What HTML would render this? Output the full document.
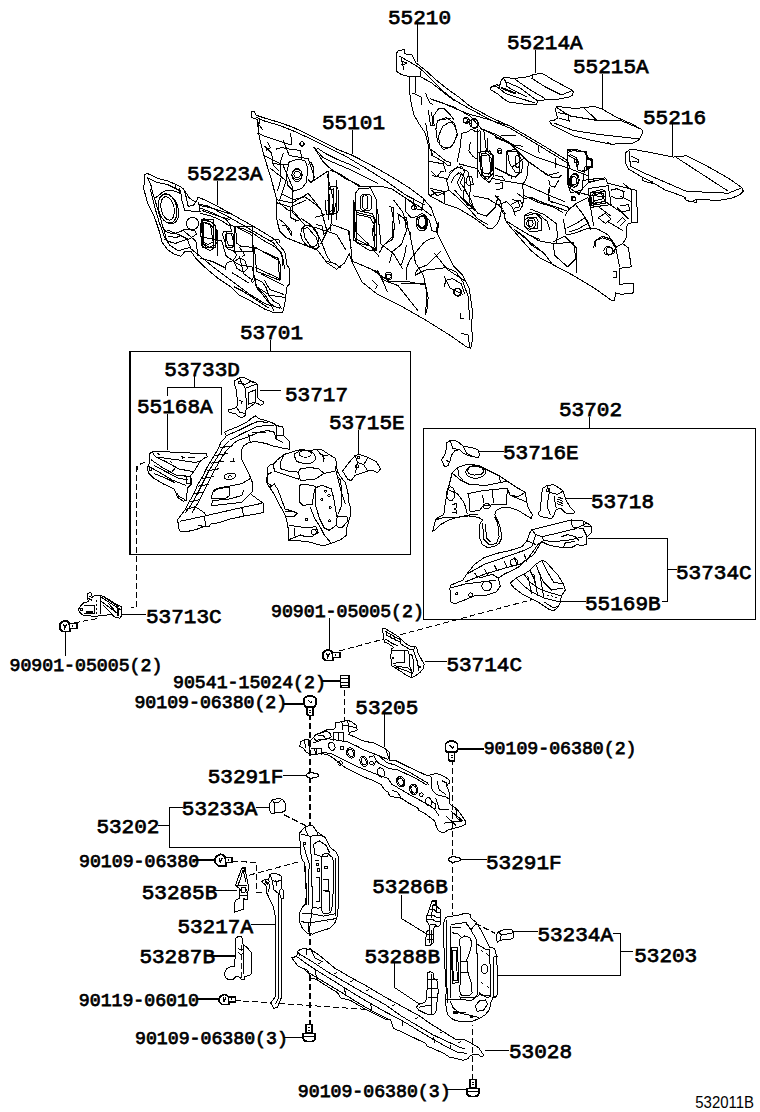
<!DOCTYPE html>
<html><head><meta charset="utf-8"><style>
html,body{margin:0;padding:0;background:#fff;overflow:hidden;width:760px;height:1112px;}
svg{display:block;}
</style></head><body>
<svg width="760" height="1112" viewBox="0 0 760 1112" shape-rendering="crispEdges">
<rect width="760" height="1112" fill="#fff"/>
<path d="M417.5,24.0 L417.5,62.0" fill="none" stroke="#000" stroke-width="1.0"/>
<path d="M535.5,49.7 L535.5,73.0" fill="none" stroke="#000" stroke-width="1.0"/>
<path d="M602.6,74.0 L602.6,109.0" fill="none" stroke="#000" stroke-width="1.0"/>
<path d="M672.6,124.0 L672.6,157.0" fill="none" stroke="#000" stroke-width="1.0"/>
<path d="M352.9,130.0 L352.9,154.0" fill="none" stroke="#000" stroke-width="1.0"/>
<path d="M217.6,181.0 L217.6,205.0" fill="none" stroke="#000" stroke-width="1.0"/>
<path d="M270.5,340.0 L270.5,351.0" fill="none" stroke="#000" stroke-width="1.0"/>
<path d="M130.0,351.5 L410.5,351.5" fill="none" stroke="#000" stroke-width="1"/>
<path d="M130.0,351.0 L130.0,555.0" fill="none" stroke="#000" stroke-width="2"/>
<path d="M410.5,351.0 L410.5,555.0" fill="none" stroke="#000" stroke-width="1"/>
<path d="M129.0,554.5 L411.0,554.5" fill="none" stroke="#000" stroke-width="1"/>
<path d="M194.2,376.0 L194.2,387.4" fill="none" stroke="#000" stroke-width="1.0"/>
<path d="M167.4,414.0 L167.4,450.0" fill="none" stroke="#000" stroke-width="1.0"/>
<path d="M167.4,387.4 L167.4,396.0" fill="none" stroke="#000" stroke-width="1.0"/>
<path d="M167.4,387.4 L221.3,387.4" fill="none" stroke="#000" stroke-width="1.0"/>
<path d="M221.3,387.4 L221.3,435.0" fill="none" stroke="#000" stroke-width="1.0"/>
<path d="M259.5,390.4 L281.0,390.4" fill="none" stroke="#000" stroke-width="1.0"/>
<path d="M358.3,430.0 L358.3,455.0" fill="none" stroke="#000" stroke-width="1.0"/>
<path d="M589.7,417.0 L589.7,428.4" fill="none" stroke="#000" stroke-width="1.0"/>
<path d="M423.0,428.5 L756.0,428.5" fill="none" stroke="#000" stroke-width="1"/>
<path d="M423.5,428.0 L423.5,620.0" fill="none" stroke="#000" stroke-width="1"/>
<path d="M755.5,428.0 L755.5,620.0" fill="none" stroke="#000" stroke-width="1"/>
<path d="M423.0,619.5 L756.0,619.5" fill="none" stroke="#000" stroke-width="1"/>
<path d="M479.0,451.8 L503.7,451.8" fill="none" stroke="#000" stroke-width="1.0"/>
<path d="M565.0,498.7 L591.6,498.7" fill="none" stroke="#000" stroke-width="1.0"/>
<path d="M588.0,538.2 L667.1,538.2 L667.1,601.3 L662.0,601.3" fill="none" stroke="#000" stroke-width="1.0"/>
<path d="M667.1,569.0 L677.0,569.0" fill="none" stroke="#000" stroke-width="1.0"/>
<path d="M560.0,601.3 L586.0,601.3" fill="none" stroke="#000" stroke-width="1.0"/>
<path d="M136.8,466.0 L136.8,607.5 L131.0,607.5" fill="none" stroke="#000" stroke-width="1.0" stroke-dasharray="6,3"/>
<path d="M121.6,614.2 L145.8,614.2" fill="none" stroke="#000" stroke-width="1.0"/>
<path d="M65.5,632.0 L65.5,656.0" fill="none" stroke="#000" stroke-width="1.0"/>
<path d="M73.7,623.0 L100.5,618.0" fill="none" stroke="#000" stroke-width="1.0" stroke-dasharray="6,3"/>
<path d="M329.0,618.0 L329.0,650.5" fill="none" stroke="#000" stroke-width="1.0"/>
<path d="M339.0,651.0 L540.0,597.5" fill="none" stroke="#000" stroke-width="1.0" stroke-dasharray="6,3"/>
<path d="M424.5,661.0 L447.0,661.0" fill="none" stroke="#000" stroke-width="1.0"/>
<path d="M322.0,681.0 L340.4,681.0" fill="none" stroke="#000" stroke-width="2"/>
<path d="M284.3,703.5 L304.5,703.5" fill="none" stroke="#000" stroke-width="2"/>
<path d="M344.2,690.0 L344.2,725.0" fill="none" stroke="#000" stroke-width="1.0" stroke-dasharray="6,3"/>
<path d="M310.0,714.0 L310.0,1025.0" fill="none" stroke="#000" stroke-width="2" stroke-dasharray="6,3"/>
<path d="M384.2,714.0 L384.2,747.0" fill="none" stroke="#000" stroke-width="1.0"/>
<path d="M283.0,775.5 L306.0,775.5" fill="none" stroke="#000" stroke-width="1.0"/>
<path d="M457.0,749.0 L484.0,749.0" fill="none" stroke="#000" stroke-width="2"/>
<path d="M452.4,759.0 L452.4,915.0" fill="none" stroke="#000" stroke-width="1.0" stroke-dasharray="6,3"/>
<path d="M256.0,807.5 L271.0,807.5" fill="none" stroke="#000" stroke-width="1.0"/>
<path d="M158.0,825.4 L169.7,825.4" fill="none" stroke="#000" stroke-width="1.0"/>
<path d="M183.0,807.5 L169.7,807.5 L169.7,847.5 L300.0,847.5" fill="none" stroke="#000" stroke-width="1.0"/>
<path d="M193.0,860.0 L215.5,860.0" fill="none" stroke="#000" stroke-width="2"/>
<path d="M232.0,861.0 L256.6,862.7 L256.6,892.8 L262.0,892.8" fill="none" stroke="#000" stroke-width="1.0" stroke-dasharray="6,3"/>
<path d="M249.0,875.2 L300.0,861.5" fill="none" stroke="#000" stroke-width="1.0" stroke-dasharray="6,3"/>
<path d="M461.3,859.7 L487.0,859.7" fill="none" stroke="#000" stroke-width="1.0"/>
<path d="M215.4,890.5 L236.8,890.5" fill="none" stroke="#000" stroke-width="1.0"/>
<path d="M401.3,895.0 L401.3,918.4 L425.8,933.4" fill="none" stroke="#000" stroke-width="1.0"/>
<path d="M251.0,924.6 L274.7,924.6" fill="none" stroke="#000" stroke-width="1.0"/>
<path d="M512.8,931.6 L537.6,931.6" fill="none" stroke="#000" stroke-width="1.0"/>
<path d="M613.4,933.6 L620.5,933.6 L620.5,975.8 L497.0,975.8" fill="none" stroke="#000" stroke-width="1.0"/>
<path d="M620.5,951.3 L633.0,951.3" fill="none" stroke="#000" stroke-width="1.0"/>
<path d="M212.2,956.0 L236.2,956.0" fill="none" stroke="#000" stroke-width="2"/>
<path d="M394.3,963.3 L394.3,987.3 L419.0,1003.8" fill="none" stroke="#000" stroke-width="1.0"/>
<path d="M197.0,999.0 L219.5,999.0" fill="none" stroke="#000" stroke-width="2"/>
<path d="M234.5,1000.4 L272.0,1003.0 L370.0,1009.6" fill="none" stroke="#000" stroke-width="1.0" stroke-dasharray="6,3"/>
<path d="M284.0,1037.5 L303.6,1037.5" fill="none" stroke="#000" stroke-width="1.0"/>
<path d="M485.0,1050.8 L508.8,1050.8" fill="none" stroke="#000" stroke-width="1.0"/>
<path d="M447.3,1089.2 L466.0,1089.2" fill="none" stroke="#000" stroke-width="1.0"/>
<path d="M472.5,1080.0 L472.5,1025.0" fill="none" stroke="#000" stroke-width="1.0" stroke-dasharray="6,3"/>
<path d="M144.8,174.1 L148.0,173.7 L156.7,178.0 L168.7,181.3 L178.4,185.6 L183.8,188.9 L186.0,196.5 L188.2,206.3 L193.6,205.2 L196.9,200.8 L198.0,197.1 L206.6,200.8 L217.5,206.3 L237.0,217.1 L254.4,226.9 L273.9,238.8 L284.8,251.8 L287.0,264.9 L289.6,269.2 L289.1,284.4 L287.0,286.6 L284.8,303.9 L282.6,312.6 L273.9,312.6 L265.3,309.4 L252.2,301.8 L239.2,295.3 L230.5,286.6 L217.5,277.9 L204.5,267.0 L195.8,258.4 L191.4,251.8 L184.9,251.8 L180.6,256.2 L174.1,254.0 L167.6,249.7 L162.1,242.1 L158.9,230.1 L154.5,217.1 L148.0,204.1 L143.7,188.9 Z" fill="#fff" stroke="#000" stroke-width="1.0" stroke-linejoin="round"/>
<ellipse transform="translate(167.6,208.4) rotate(-12)" rx="9.1" ry="14.8" fill="none" stroke="#000" stroke-width="1.0"/>
<ellipse transform="translate(167.6,208.4) rotate(-12)" rx="6.5" ry="11.9" fill="none" stroke="#000" stroke-width="1.0"/>
<circle cx="192.5" cy="223.6" r="6.1" fill="none" stroke="#000" stroke-width="1.0"/>
<path d="M148.0,178.0 L156.7,182.4 L167.6,184.5 L180.6,191.1 L181.7,199.7 L184.9,210.6 L200.1,211.7 L199.0,204.1 L208.8,206.3 L234.9,220.4 L273.9,243.2 L282.6,256.2 L284.8,269.2" fill="none" stroke="#000" stroke-width="1.0"/>
<path d="M150.2,188.9 L154.5,206.3 L158.9,221.4 L164.3,236.6 L169.7,245.3 L178.4,250.8 L189.3,247.5 L200.1,256.2 L213.2,267.0 L230.5,280.1 L247.9,293.1 L265.3,303.9 L280.5,308.3" fill="none" stroke="#000" stroke-width="1.0"/>
<rect x="202.3" y="219.3" width="10.9" height="28.2" rx="0" fill="none" stroke="#000" stroke-width="1.0"/>
<rect x="225.1" y="233.4" width="8.7" height="14.1" rx="3" fill="none" stroke="#000" stroke-width="1.0"/>
<rect x="234.9" y="226.9" width="17.4" height="25.0" rx="0" fill="none" stroke="#000" stroke-width="1.0"/>
<path d="M254.4,247.5 L278.3,258.4 L279.4,280.1 L256.6,271.4 L254.4,247.5" fill="none" stroke="#000" stroke-width="1.0"/>
<path d="M200.1,236.6 L221.8,241.0 L226.2,256.2 L239.2,264.9 L252.2,267.0 L256.6,286.6 L269.6,295.3 L284.8,297.4" fill="none" stroke="#000" stroke-width="1.0"/>
<path d="M217.5,230.1 L217.5,256.2" fill="none" stroke="#000" stroke-width="1.0"/>
<path d="M239.2,256.2 L243.6,273.6 L252.2,280.1" fill="none" stroke="#000" stroke-width="1.0"/>
<path d="M182.8,230.1 L195.8,241.0 L198.0,256.2" fill="none" stroke="#000" stroke-width="1.0"/>
<path d="M256.6,286.6 L265.3,295.3 L273.9,310.5" fill="none" stroke="#000" stroke-width="1.0"/>
<path d="M167.6,230.1 L178.4,234.5 L187.1,238.8 L191.4,249.7" fill="none" stroke="#000" stroke-width="1.0"/>
<path d="M251.3,112.0 L254.5,111.3 L255.8,115.1 L264.5,118.0 L278.9,122.3 L293.4,127.4 L307.9,134.6 L322.4,141.8 L336.8,149.1 L351.3,154.9 L358.9,158.7 L377.8,168.8 L395.1,178.9 L411.1,189.1 L422.6,197.8 L431.3,207.9 L434.2,216.6 L434.5,217.1 L437.6,225.0 L436.1,231.3 L440.8,240.8 L447.1,253.4 L453.4,266.1 L462.9,275.5 L469.2,288.2 L472.4,310.3 L471.7,326.1 L472.4,340.3 L470.8,348.2 L466.1,346.6 L450.3,335.5 L425.0,319.7 L402.9,307.1 L390.3,300.8 L377.6,294.5 L361.8,281.8 L352.4,262.9 L349.2,253.4 L344.5,262.9 L336.6,269.2 L327.1,262.9 L317.6,250.3 L301.8,243.9 L286.1,237.6 L279.7,231.3 L276.6,218.7 L276.6,199.7 L271.8,180.8 L263.9,155.5 L259.2,136.6 L257.0,119.2 L251.3,117.6 Z" fill="#fff" stroke="#000" stroke-width="1.0" stroke-linejoin="round"/>
<path d="M255.8,117.0 L264.5,121.0 L278.9,125.2 L293.4,131.0 L307.9,137.5 L322.4,144.7 L336.8,152.0 L344.5,155.5 L366.2,168.5 L385.0,180.3 L405.3,194.8 L425.0,205.0" fill="none" stroke="#000" stroke-width="1.0"/>
<path d="M313.7,146.9 L322.4,157.0 L330.0,161.0 L351.7,170.3 L366.2,177.5 L377.8,183.3" fill="none" stroke="#000" stroke-width="1.0"/>
<path d="M316.6,147.6 L325.3,153.4 L336.8,159.2 L351.3,165.0 L359.9,169.3" fill="none" stroke="#000" stroke-width="1.0"/>
<path d="M330.0,170.3 L338.7,173.2 L358.9,186.2 L380.7,186.2 L392.2,189.1 L405.3,197.8 L420.0,207.0 L432.0,216.0" fill="none" stroke="#000" stroke-width="1.0"/>
<path d="M259.2,117.6 L259.0,125.0 L263.0,130.0" fill="none" stroke="#000" stroke-width="1.0"/>
<circle cx="297.1" cy="174.5" r="5.1" fill="none" stroke="#000" stroke-width="1.0"/>
<circle cx="297.1" cy="174.5" r="3.2" fill="none" stroke="#000" stroke-width="1.0"/>
<circle cx="301.8" cy="143.5" r="1.9" fill="none" stroke="#000" stroke-width="1.0"/>
<circle cx="388.7" cy="277.1" r="2.8" fill="none" stroke="#000" stroke-width="1.0"/>
<circle cx="457.2" cy="291.9" r="3.5" fill="none" stroke="#000" stroke-width="1.0"/>
<circle cx="421.8" cy="221.8" r="5.4" fill="none" stroke="#000" stroke-width="1.0"/>
<circle cx="413.9" cy="207.6" r="2.2" fill="none" stroke="#000" stroke-width="1.0"/>
<rect x="328.7" y="186.5" width="9.5" height="27.5" rx="4" fill="none" stroke="#000" stroke-width="1.0"/>
<rect x="360.3" y="194.1" width="11.1" height="16.7" rx="4" fill="none" stroke="#000" stroke-width="1.0"/>
<ellipse transform="translate(309.7,236.1) rotate(-25)" rx="8.2" ry="11.4" fill="none" stroke="#000" stroke-width="1.0"/>
<path d="M349.2,231.3 L352.4,262.9" fill="none" stroke="#000" stroke-width="1.0"/>
<path d="M353.9,199.7 L355.5,231.3 L368.2,243.9 L379.2,256.6" fill="none" stroke="#000" stroke-width="1.0"/>
<path d="M393.4,199.7 L402.9,212.4 L409.2,231.3 L415.5,262.9 L423.4,275.5 L428.2,297.6 L426.6,313.4" fill="none" stroke="#000" stroke-width="1.0"/>
<path d="M276.6,199.7 L292.4,202.9 L308.2,193.4 L320.8,209.2 L327.1,231.3 L320.8,243.9" fill="none" stroke="#000" stroke-width="1.0"/>
<path d="M263.9,155.5 L282.9,165.0 L292.4,187.1 L292.4,212.4 L305.0,225.0 L317.6,228.2 L336.6,234.5 L346.1,250.3" fill="none" stroke="#000" stroke-width="1.0"/>
<path d="M327.1,174.5 L333.4,199.7 L330.3,231.3" fill="none" stroke="#000" stroke-width="1.0"/>
<path d="M377.6,209.2 L380.8,243.9 L393.4,253.4 L402.9,269.2" fill="none" stroke="#000" stroke-width="1.0"/>
<path d="M434.5,253.4 L447.1,269.2 L466.1,281.8" fill="none" stroke="#000" stroke-width="1.0"/>
<path d="M371.3,269.2 L390.3,281.8 L409.2,281.8 L425.0,285.0" fill="none" stroke="#000" stroke-width="1.0"/>
<path d="M443.9,275.5 L450.3,288.2 L462.9,294.5" fill="none" stroke="#000" stroke-width="1.0"/>
<path d="M282.9,139.7 L289.2,155.5 L308.2,158.7 L314.5,177.6" fill="none" stroke="#000" stroke-width="1.0"/>
<path d="M270.3,168.2 L286.1,180.8 L279.7,199.7" fill="none" stroke="#000" stroke-width="1.0"/>
<path d="M396.6,52.9 L398.2,50.8 L404.5,49.4 L405.0,53.9 L411.8,54.5 L416.1,62.9 L426.6,71.3 L437.1,80.8 L447.6,89.2 L458.2,96.6 L470.0,106.2 L483.2,113.4 L496.3,120.0 L509.5,125.9 L513.4,127.9 L535.8,141.1 L549.0,149.0 L567.4,160.5 L567.9,149.3 L572.9,149.3 L578.7,151.5 L585.9,151.5 L586.6,158.7 L591.6,159.4 L592.3,167.3 L588.0,168.8 L588.0,175.9 L588.8,181.7 L606.0,178.8 L607.4,183.1 L636.2,190.3 L637.8,222.0 L628.4,223.4 L627.0,226.3 L626.3,237.9 L622.6,243.7 L628.4,248.0 L631.3,266.8 L619.7,268.3 L619.7,284.2 L633.5,283.5 L633.5,292.9 L621.2,294.3 L615.4,292.9 L614.7,300.0 L611.0,300.0 L595.1,288.6 L573.4,275.5 L548.8,262.5 L540.0,258.0 L531.3,250.8 L519.7,237.8 L511.0,227.6 L505.3,220.4 L503.8,210.3 L501.0,211.7 L499.5,219.0 L496.6,224.7 L492.0,229.0 L488.0,228.4 L473.4,217.5 L459.0,208.8 L444.5,203.7 L430.0,195.8 L428.6,194.2 L428.6,155.1 L428.3,145.0 L425.4,133.4 L419.6,124.7 L413.8,114.6 L410.9,101.6 L409.7,92.4 L409.7,76.6 L401.3,74.5 L396.6,71.3 Z" fill="#fff" stroke="#000" stroke-width="1.0" stroke-linejoin="round"/>
<path d="M399.7,56.1 L419.2,67.6 L431.8,79.7 L443.4,91.3 L453.9,99.7 L470.0,109.0 L483.2,116.0 L496.3,122.5 L510.8,128.5 L535.8,143.5 L567.4,163.0" fill="none" stroke="#000" stroke-width="1.0"/>
<path d="M420.3,71.3 L420.3,76.6 L409.7,76.6" fill="none" stroke="#000" stroke-width="1.0"/>
<path d="M415.0,76.6 L415.0,93.4" fill="none" stroke="#000" stroke-width="1.0"/>
<path d="M420.3,76.6 L431.8,83.0 L453.9,100.5" fill="none" stroke="#000" stroke-width="1.0"/>
<path d="M431.8,99.7 L453.9,107.1 L470.0,116.0 L481.8,129.2 L496.3,134.5 L513.4,145.0 L522.6,146.3" fill="none" stroke="#000" stroke-width="1.0"/>
<path d="M483.2,129.2 L509.5,143.7 L535.8,156.8 L570.0,168.7 L588.0,175.9" fill="none" stroke="#000" stroke-width="1.0"/>
<path d="M567.4,160.5 L570.0,168.7" fill="none" stroke="#000" stroke-width="1.0"/>
<path d="M401.0,58.0 L404.0,70.0" fill="none" stroke="#000" stroke-width="1.0"/>
<path d="M401.5,61.0 L406.5,63.0 L404.0,65.0 L401.5,64.0" fill="none" stroke="#000" stroke-width="1.0"/>
<path d="M588.0,168.8 L584.0,172.0 L578.0,170.0 L576.0,160.0 L567.9,155.0" fill="none" stroke="#000" stroke-width="1.0"/>
<path d="M591.6,159.4 L586.6,160.0 L586.6,168.8" fill="none" stroke="#000" stroke-width="1.0"/>
<path d="M490.4,87.2 L496.3,84.8 L499.8,85.4 L501.0,80.7 L503.4,77.7 L516.4,78.3 L529.4,76.5 L533.0,74.7 L538.9,73.6 L543.7,74.1 L554.3,80.7 L570.9,89.5 L573.3,91.9 L572.7,94.9 L568.5,97.2 L559.1,99.0 L547.2,99.6 L537.7,100.8 L536.6,104.3 L529.4,104.9 L517.6,103.2 L509.3,102.0 L504.6,99.6 L501.0,96.6 L497.5,93.7 L490.4,89.5 Z" fill="#fff" stroke="#000" stroke-width="1.0" stroke-linejoin="round"/>
<path d="M503.4,77.7 L505.8,81.8 L520.0,87.8 L534.2,98.4 L537.7,100.8" fill="none" stroke="#000" stroke-width="1.0"/>
<path d="M515.2,79.5 L530.6,90.1 L544.8,98.4" fill="none" stroke="#000" stroke-width="1.0"/>
<path d="M533.0,74.7 L531.8,78.3 L544.8,86.6 L561.4,94.9 L570.9,91.3" fill="none" stroke="#000" stroke-width="1.0"/>
<path d="M505.8,81.8 L506.9,86.6 L517.6,92.5 L527.1,97.2" fill="none" stroke="#000" stroke-width="1.0"/>
<path d="M501.0,87.8 L516.4,93.7" fill="none" stroke="#000" stroke-width="2"/>
<path d="M499.8,85.4 L499.8,88.9 L505.8,93.7 L535.4,103.2" fill="none" stroke="#000" stroke-width="1.0"/>
<path d="M490.4,87.2 L496.3,86.6 L499.8,88.9" fill="none" stroke="#000" stroke-width="1.0"/>
<path d="M549.2,121.1 L554.5,120.0 L557.6,117.9 L555.5,109.5 L556.6,106.3 L565.0,107.4 L575.5,108.4 L586.1,107.4 L594.5,106.3 L602.9,109.5 L615.5,116.8 L632.4,124.2 L641.8,129.5 L642.9,132.6 L638.7,140.0 L632.4,143.2 L611.3,144.2 L590.3,140.0 L573.4,135.8 L560.8,129.5 L552.4,125.3 Z" fill="#fff" stroke="#000" stroke-width="1.0" stroke-linejoin="round"/>
<path d="M556.6,107.4 L569.2,115.8 L594.5,120.0 L619.7,120.0 L641.8,129.5" fill="none" stroke="#000" stroke-width="1.0"/>
<path d="M583.9,108.0 L596.6,120.0" fill="none" stroke="#000" stroke-width="1.0"/>
<path d="M554.5,123.2 L573.4,130.5 L600.8,134.7 L638.7,138.9" fill="none" stroke="#000" stroke-width="1.0"/>
<path d="M557.6,112.6 L569.2,114.7" fill="none" stroke="#000" stroke-width="1.0"/>
<path d="M558.7,117.9 L569.2,121.1 L568.2,115.8" fill="none" stroke="#000" stroke-width="1.0"/>
<path d="M607.1,142.1 L611.3,143.8" fill="none" stroke="#000" stroke-width="1.0"/>
<path d="M625.3,153.2 L628.9,150.0 L632.4,149.2 L646.8,151.8 L660.0,154.5 L673.2,157.1 L686.3,155.8 L707.4,166.3 L728.4,178.2 L741.6,187.4 L743.4,191.3 L738.9,195.3 L731.1,198.4 L717.9,200.5 L696.8,199.2 L691.6,201.8 L686.3,200.5 L683.7,196.6 L665.3,190.0 L649.5,180.8 L641.6,176.8 L628.4,168.9 L625.8,163.7 Z" fill="#fff" stroke="#000" stroke-width="1.0" stroke-linejoin="round"/>
<path d="M628.9,150.0 L630.5,166.3 L646.8,174.2 L686.3,191.3 L728.4,193.2 L741.6,187.9" fill="none" stroke="#000" stroke-width="1.0"/>
<path d="M675.8,157.1 L728.4,191.3" fill="none" stroke="#000" stroke-width="1.0"/>
<path d="M630.5,155.8 L638.9,159.7 L638.9,162.4 L632.4,161.1" fill="none" stroke="#000" stroke-width="1.0"/>
<path d="M641.6,175.5 L642.9,180.8 L652.1,183.4 L652.6,180.8" fill="none" stroke="#000" stroke-width="1.0"/>
<path d="M685.0,196.6 L686.3,200.5 L696.8,202.6 L696.8,199.2" fill="none" stroke="#000" stroke-width="1.0"/>
<path d="M429.7,98.7 L442.8,103.0 L455.8,108.8 L470.3,114.6 L481.8,117.5 L505.0,124.7" fill="none" stroke="#000" stroke-width="1.0"/>
<path d="M428.3,110.3 L430.5,125.5 L434.1,125.5 L433.4,116.1 L438.4,108.8 L444.2,108.8 L450.0,114.6 L454.3,120.4" fill="none" stroke="#000" stroke-width="1.0"/>
<path d="M438.4,136.3 L442.8,126.2 L450.0,121.8 L454.3,124.7 L457.2,133.4 L454.3,142.1 L450.0,147.9 L444.2,147.9 L439.9,145.0 L438.4,136.3" fill="none" stroke="#000" stroke-width="1.0"/>
<path d="M437.0,120.4 L451.4,118.2" fill="none" stroke="#000" stroke-width="1.0"/>
<circle cx="465.2" cy="120.4" r="2.2" fill="none" stroke="#000" stroke-width="1.0"/>
<ellipse transform="translate(474.6,123.6) rotate(0)" rx="3.6" ry="5.1" fill="none" stroke="#000" stroke-width="1.0"/>
<path d="M461.6,133.4 L467.4,132.0 L471.7,129.1 L476.1,132.0 L480.4,130.5" fill="none" stroke="#000" stroke-width="1.0"/>
<path d="M461.6,133.4 L460.1,147.9 L457.2,162.4" fill="none" stroke="#000" stroke-width="1.0"/>
<path d="M431.2,149.3 L438.4,155.1 L445.7,160.9 L450.0,162.4 L450.0,165.3 L447.1,165.3 L444.2,162.4 L437.0,158.0 L431.2,155.1 L431.2,149.3" fill="none" stroke="#000" stroke-width="1.0"/>
<path d="M478.9,152.2 L486.2,150.8 L492.0,155.1 L493.4,176.8 L489.1,182.6 L481.8,176.8 L478.9,152.2" fill="none" stroke="#000" stroke-width="1.0"/>
<path d="M481.1,153.7 L485.5,153.0 L489.8,156.6 L490.5,175.4 L487.6,179.7 L482.6,175.4 L481.1,153.7" fill="none" stroke="#000" stroke-width="1.0"/>
<path d="M480.4,130.5 L480.4,152.2" fill="none" stroke="#000" stroke-width="1.0"/>
<path d="M487.6,137.8 L487.6,150.8" fill="none" stroke="#000" stroke-width="1.0"/>
<path d="M447.1,179.7 L450.0,173.9 L455.8,168.2 L461.6,166.7 L464.5,171.1 L463.0,176.8 L460.1,182.6 L464.5,188.4 L467.4,194.2" fill="none" stroke="#000" stroke-width="1.0"/>
<path d="M451.4,182.6 L454.3,176.8 L458.7,172.5 L460.9,175.4 L457.2,182.6 L461.6,191.3" fill="none" stroke="#000" stroke-width="1.0"/>
<path d="M467.4,176.8 L471.7,176.8 L473.2,184.1 L468.8,185.5 L465.9,182.6 L467.4,176.8" fill="none" stroke="#000" stroke-width="1.0"/>
<path d="M470.3,142.1 L468.8,150.8 L473.2,156.6 L477.5,159.5" fill="none" stroke="#000" stroke-width="1.0"/>
<path d="M458.7,163.8 L476.1,168.2 L478.9,171.1" fill="none" stroke="#000" stroke-width="1.0"/>
<path d="M431.2,171.1 L437.0,176.8 L441.3,171.1 L444.2,171.1" fill="none" stroke="#000" stroke-width="1.0"/>
<path d="M429.7,188.4 L437.0,189.9 L442.8,191.3 L444.2,195.7" fill="none" stroke="#000" stroke-width="1.0"/>
<path d="M412.4,92.9 L421.1,97.2 L421.1,104.5" fill="none" stroke="#000" stroke-width="1.0"/>
<path d="M425.4,92.9 L429.7,103.0 L432.6,104.5" fill="none" stroke="#000" stroke-width="1.0"/>
<circle cx="499.9" cy="152.2" r="1.7" fill="none" stroke="#000" stroke-width="1.0"/>
<path d="M494.9,175.4 L502.1,176.8 L505.0,179.7" fill="none" stroke="#000" stroke-width="1.0"/>
<path d="M494.9,184.1 L502.1,182.6 L502.8,188.4 L496.3,189.9" fill="none" stroke="#000" stroke-width="1.0"/>
<path d="M495.0,137.4 L509.5,143.2 L528.3,162.0 L541.3,170.7 L552.9,177.9 L558.7,177.9 L561.6,175.0" fill="none" stroke="#000" stroke-width="1.0"/>
<path d="M507.3,151.1 L516.7,151.1 L522.5,162.0 L521.8,172.1 L515.3,172.1 L509.5,163.4 L507.3,151.1" fill="none" stroke="#000" stroke-width="1.0"/>
<ellipse transform="translate(517.4,161.3) rotate(0)" rx="2.3" ry="6.1" fill="none" stroke="#000" stroke-width="1.0"/>
<path d="M528.3,163.4 L526.8,177.9 L522.5,185.1 L523.9,195.3 L522.5,206.8" fill="none" stroke="#000" stroke-width="1.0"/>
<path d="M550.0,186.6 L548.6,195.3 L550.0,201.1 L567.4,206.8 L570.3,209.7" fill="none" stroke="#000" stroke-width="1.0"/>
<path d="M523.9,195.3 L529.7,198.2 L538.4,202.5 L552.9,206.8 L563.0,212.6" fill="none" stroke="#000" stroke-width="1.0"/>
<path d="M568.1,150.4 L573.2,149.7 L576.1,151.1 L581.8,151.1 L586.2,151.8 L587.6,157.6 L592.0,159.1 L592.0,166.3 L587.6,167.8 L586.2,170.7 L581.8,170.7" fill="none" stroke="#000" stroke-width="1.0"/>
<path d="M570.3,154.7 L576.1,157.6 L578.9,163.4 L576.1,166.3" fill="none" stroke="#000" stroke-width="1.0"/>
<circle cx="576.1" cy="161.3" r="1.7" fill="none" stroke="#000" stroke-width="1.0"/>
<ellipse transform="translate(573.9,180.8) rotate(0)" rx="4.3" ry="6.5" fill="none" stroke="#000" stroke-width="1.0"/>
<ellipse transform="translate(573.9,180.8) rotate(0)" rx="2.6" ry="4.3" fill="none" stroke="#000" stroke-width="1.0"/>
<path d="M568.8,169.2 L568.1,186.6 L573.2,190.9 L578.9,192.4" fill="none" stroke="#000" stroke-width="1.0"/>
<circle cx="573.9" cy="198.9" r="1.7" fill="none" stroke="#000" stroke-width="1.0"/>
<path d="M590.5,192.4 L602.1,189.5 L605.0,190.9 L605.0,201.1 L593.4,203.9 L590.5,201.1 L590.5,192.4" fill="none" stroke="#000" stroke-width="1.0"/>
<path d="M592.7,193.8 L601.4,191.6 L602.8,198.9 L594.1,201.1 L592.7,193.8" fill="none" stroke="#000" stroke-width="1.0"/>
<path d="M581.8,180.8 L590.5,179.3 L605.0,177.9" fill="none" stroke="#000" stroke-width="1.0"/>
<path d="M578.9,192.4 L589.1,195.3 L605.0,196.7" fill="none" stroke="#000" stroke-width="1.0"/>
<path d="M576.1,205.4 L581.8,212.6 L587.6,221.3 L590.5,230.0" fill="none" stroke="#000" stroke-width="1.0"/>
<path d="M495.0,195.3 L500.8,201.1 L502.2,212.6 L506.6,214.1" fill="none" stroke="#000" stroke-width="1.0"/>
<path d="M523.9,215.5 L529.7,212.6 L538.4,214.1 L547.1,221.3 L550.0,230.0" fill="none" stroke="#000" stroke-width="1.0"/>
<path d="M512.4,199.6 L518.2,201.1 L519.6,206.8 L513.8,208.3" fill="none" stroke="#000" stroke-width="1.0"/>
<path d="M495.0,167.8 L503.7,172.1 L512.4,176.4" fill="none" stroke="#000" stroke-width="1.0"/>
<path d="M538.4,146.1 L539.1,153.3" fill="none" stroke="#000" stroke-width="1.0"/>
<path d="M555.8,157.6 L555.8,167.8" fill="none" stroke="#000" stroke-width="1.0"/>
<path d="M508.0,175.0 L512.4,176.4 L510.9,179.3" fill="none" stroke="#000" stroke-width="1.0"/>
<path d="M448.8,190.0 L458.9,198.7 L469.1,208.8 L473.4,207.4 L470.5,198.7 L464.7,190.0" fill="none" stroke="#000" stroke-width="1.0"/>
<path d="M454.6,190.0 L463.3,200.1 L468.4,205.9" fill="none" stroke="#000" stroke-width="1.0"/>
<path d="M473.4,195.8 L487.9,198.7 L499.5,205.9 L502.4,208.8" fill="none" stroke="#000" stroke-width="1.0"/>
<path d="M469.1,208.8 L477.8,218.9 L487.9,224.7" fill="none" stroke="#000" stroke-width="1.0"/>
<path d="M505.3,220.4 L516.8,227.6 L531.3,236.3 L540.0,239.2" fill="none" stroke="#000" stroke-width="1.0"/>
<path d="M513.9,229.1 L524.1,236.3 L531.3,245.0 L540.0,250.8" fill="none" stroke="#000" stroke-width="1.0"/>
<circle cx="529.9" cy="223.3" r="5.8" fill="none" stroke="#000" stroke-width="1.0"/>
<circle cx="529.9" cy="223.3" r="3.2" fill="none" stroke="#000" stroke-width="1.0"/>
<path d="M511.1,204.5 L519.7,200.1 L522.6,204.5 L519.7,210.3 L513.9,211.7" fill="none" stroke="#000" stroke-width="1.0"/>
<path d="M516.8,192.9 L524.1,198.7 L531.3,197.2 L540.0,201.6" fill="none" stroke="#000" stroke-width="1.0"/>
<path d="M430.0,195.8 L435.8,192.9 L444.5,191.4 L444.5,203.8" fill="none" stroke="#000" stroke-width="1.0"/>
<path d="M530.0,197.4 L544.5,203.2 L567.6,211.1" fill="none" stroke="#000" stroke-width="1.0"/>
<path d="M530.0,208.9 L544.5,214.7 L556.1,223.4 L557.5,235.0 L556.1,243.7" fill="none" stroke="#000" stroke-width="1.0"/>
<path d="M530.0,235.0 L538.7,240.8 L554.6,243.7 L573.4,242.2 L576.3,261.1 L576.3,272.6" fill="none" stroke="#000" stroke-width="1.0"/>
<path d="M553.2,243.7 L554.6,255.3 L567.6,266.8 L576.3,258.2" fill="none" stroke="#000" stroke-width="1.0"/>
<path d="M564.7,216.2 L569.1,208.9 L573.4,206.1 L576.3,203.2 L587.9,197.4 L590.8,208.9 L593.7,226.3" fill="none" stroke="#000" stroke-width="1.0"/>
<path d="M563.3,219.1 L566.2,235.0 L573.4,233.6 L589.3,227.8 L598.0,229.2 L608.2,235.0 L615.4,246.6 L619.7,266.8" fill="none" stroke="#000" stroke-width="1.0"/>
<path d="M590.8,193.0 L605.3,191.6 L606.0,203.2 L591.5,205.3 L590.8,193.0" fill="none" stroke="#000" stroke-width="1.0"/>
<path d="M593.7,194.5 L603.8,193.3 L604.1,201.7 L593.7,203.2 L593.7,194.5" fill="none" stroke="#000" stroke-width="1.0"/>
<path d="M567.6,227.8 L576.3,223.4 L585.0,217.6 L587.9,223.4 L577.8,229.2 L569.1,232.1" fill="none" stroke="#000" stroke-width="1.0"/>
<path d="M598.0,217.6 L605.3,213.3 L611.1,219.1 L605.3,223.4 L598.0,217.6" fill="none" stroke="#000" stroke-width="1.0"/>
<circle cx="609.6" cy="250.9" r="3.6" fill="none" stroke="#000" stroke-width="1.0"/>
<path d="M595.1,246.6 L595.1,240.8 L602.4,237.9 L611.1,240.8 L615.4,248.0 L613.9,253.8" fill="none" stroke="#000" stroke-width="1.0"/>
<path d="M611.1,190.1 L616.8,188.7 L624.1,191.6 L622.6,198.8 L616.8,198.8 L611.1,195.9" fill="none" stroke="#000" stroke-width="1.0"/>
<path d="M619.7,206.1 L628.4,204.6 L629.9,210.4 L621.2,211.8" fill="none" stroke="#000" stroke-width="1.0"/>
<path d="M616.8,223.4 L622.6,217.6 L625.5,220.5 L619.7,226.3" fill="none" stroke="#000" stroke-width="1.0"/>
<path d="M569.1,180.0 L570.5,188.7 L579.2,194.5 L582.1,188.7 L587.9,182.9 L598.0,180.0" fill="none" stroke="#000" stroke-width="1.0"/>
<path d="M548.8,180.0 L550.3,185.8 L554.6,187.2 L558.9,180.0" fill="none" stroke="#000" stroke-width="1.0"/>
<path d="M548.8,188.7 L548.8,200.3 L553.2,203.2" fill="none" stroke="#000" stroke-width="1.0"/>
<path d="M622.6,243.7 L616.8,246.6 L615.4,249.5" fill="none" stroke="#000" stroke-width="1.0"/>
<path d="M612.5,271.2 L616.8,271.2 L616.8,277.0 L613.2,277.0" fill="none" stroke="#000" stroke-width="1.0"/>
<path d="M622.6,182.9 L631.3,190.1 L631.3,222.0" fill="none" stroke="#000" stroke-width="1.0"/>
<path d="M437.4,120.5 L446.1,117.6 L454.7,123.4 L457.6,135.0 L451.8,146.6 L443.2,149.5 L437.4,140.8 L435.9,129.2 L437.4,120.5" fill="none" stroke="#000" stroke-width="1.0"/>
<path d="M431.6,111.8 L433.0,126.3" fill="none" stroke="#000" stroke-width="1.0"/>
<path d="M425.8,123.4 L430.1,149.5 L433.0,155.3" fill="none" stroke="#000" stroke-width="1.0"/>
<path d="M448.9,172.6 L457.6,166.8 L467.8,171.2 L470.7,184.2 L469.2,201.6 L477.9,213.2 L486.6,216.1 L495.3,207.4 L498.2,195.8" fill="none" stroke="#000" stroke-width="1.0"/>
<path d="M454.7,175.5 L460.5,172.6 L464.9,178.4 L463.4,198.7 L475.0,210.3" fill="none" stroke="#000" stroke-width="1.0"/>
<path d="M477.9,152.4 L489.5,150.9 L493.8,156.7 L493.8,172.6 L489.5,177.0 L480.8,175.5 L477.9,169.7 L477.9,152.4" fill="none" stroke="#000" stroke-width="1.0"/>
<path d="M480.8,155.8 L488.9,154.7 L491.2,158.7 L491.2,171.2 L488.3,174.1 L481.9,172.6 L480.8,168.3 L480.8,155.8" fill="none" stroke="#000" stroke-width="1.0"/>
<path d="M506.8,150.9 L515.5,149.5 L519.9,155.3 L519.9,172.6 L515.5,177.0 L508.3,175.5 L506.8,172.6 L506.8,150.9" fill="none" stroke="#000" stroke-width="1.0"/>
<circle cx="499.6" cy="150.9" r="2.3" fill="none" stroke="#000" stroke-width="1.0"/>
<circle cx="466.3" cy="120.5" r="2.9" fill="none" stroke="#000" stroke-width="1.0"/>
<circle cx="473.6" cy="123.4" r="4.1" fill="none" stroke="#000" stroke-width="1.0"/>
<path d="M524.2,216.1 L535.8,213.2 L541.6,218.9 L541.6,230.5 L530.0,232.0 L524.2,226.2 L524.2,216.1" fill="none" stroke="#000" stroke-width="1.0"/>
<path d="M528.6,218.9 L535.8,217.2 L538.1,221.3 L537.5,228.2 L530.6,229.1 L528.6,224.7 L528.6,218.9" fill="none" stroke="#000" stroke-width="1.0"/>
<path d="M567.6,152.4 L576.3,149.5 L585.0,152.4 L587.9,158.2 L592.2,161.1 L590.8,166.8 L585.0,166.8 L583.6,175.5 L582.1,190.0 L570.5,192.9 L567.6,184.2 L567.6,152.4" fill="none" stroke="#000" stroke-width="1.0"/>
<ellipse transform="translate(574.9,179.9) rotate(0)" rx="4.3" ry="6.4" fill="none" stroke="#000" stroke-width="1.0"/>
<circle cx="573.4" cy="198.7" r="2.3" fill="none" stroke="#000" stroke-width="1.0"/>
<path d="M587.9,188.6 L608.2,185.7 L611.1,204.5 L590.8,207.4 L587.9,188.6" fill="none" stroke="#000" stroke-width="1.0"/>
<path d="M599.5,207.4 L611.1,216.1" fill="none" stroke="#000" stroke-width="1.0"/>
<path d="M605.3,201.6 L622.6,213.2" fill="none" stroke="#000" stroke-width="1.0"/>
<path d="M616.8,207.4 L628.4,218.9" fill="none" stroke="#000" stroke-width="1.0"/>
<path d="M608.2,221.8 L622.6,230.5" fill="none" stroke="#000" stroke-width="1.0"/>
<path d="M619.7,195.8 L631.3,201.6" fill="none" stroke="#000" stroke-width="1.0"/>
<path d="M477.9,129.2 L477.9,178.4" fill="none" stroke="#000" stroke-width="1.0"/>
<path d="M483.7,129.2 L486.6,152.4" fill="none" stroke="#000" stroke-width="1.0"/>
<path d="M501.1,135.0 L515.5,135.0" fill="none" stroke="#000" stroke-width="1.0"/>
<path d="M492.4,178.4 L506.8,181.3 L524.2,184.2 L550.3,195.8 L564.7,201.6" fill="none" stroke="#000" stroke-width="1.0"/>
<path d="M498.2,204.5 L506.8,201.6 L512.6,207.4 L515.5,216.1" fill="none" stroke="#000" stroke-width="1.0"/>
<path d="M553.2,242.1 L564.7,236.3 L576.3,247.9 L576.3,265.3" fill="none" stroke="#000" stroke-width="1.0"/>
<path d="M515.5,230.5 L530.0,242.1 L544.5,253.7 L553.2,265.3" fill="none" stroke="#000" stroke-width="1.0"/>
<circle cx="608.2" cy="250.8" r="4.3" fill="none" stroke="#000" stroke-width="1.0"/>
<path d="M593.7,247.9 L595.1,240.7 L602.4,236.3 L611.1,239.2 L616.8,247.9" fill="none" stroke="#000" stroke-width="1.0"/>
<path d="M512.6,166.8 L524.2,158.2 L535.8,166.8 L547.4,175.5 L558.9,172.6" fill="none" stroke="#000" stroke-width="1.0"/>
<path d="M431.6,175.5 L446.1,178.4 L448.9,190.0 L437.4,195.8 L431.6,190.0" fill="none" stroke="#000" stroke-width="1.0"/>
<path d="M428.7,161.1 L443.2,163.9 L446.1,172.6" fill="none" stroke="#000" stroke-width="1.0"/>
<path d="M258.7,121.6 L258.0,133.2 L264.5,136.1 L278.9,141.1 L290.5,144.7" fill="none" stroke="#000" stroke-width="1.0"/>
<path d="M313.7,146.9 L322.4,160.7 L329.6,167.9 L344.1,178.0 L360.0,185.3" fill="none" stroke="#000" stroke-width="1.0"/>
<path d="M289.1,162.1 L297.8,159.2 L305.0,160.7 L307.9,167.9 L306.4,182.4 L302.1,188.2 L293.4,191.1 L287.6,185.3 L286.2,175.1 L289.1,162.1" fill="none" stroke="#000" stroke-width="1.0"/>
<ellipse transform="translate(297.0,175.1) rotate(0)" rx="5.1" ry="6.5" fill="none" stroke="#000" stroke-width="1.0"/>
<path d="M307.9,165.0 L310.8,162.1 L313.7,167.9 L313.7,179.5 L310.8,182.4 L307.9,179.5" fill="none" stroke="#000" stroke-width="1.0"/>
<path d="M276.1,149.1 L281.8,147.6 L289.1,149.1 L300.7,150.5 L301.4,159.2" fill="none" stroke="#000" stroke-width="1.0"/>
<path d="M267.4,141.8 L270.3,147.6 L265.9,150.5" fill="none" stroke="#000" stroke-width="1.0"/>
<path d="M264.5,146.2 L271.7,153.4 L273.2,165.0 L278.9,170.8" fill="none" stroke="#000" stroke-width="1.0"/>
<path d="M290.5,133.2 L292.0,144.7" fill="none" stroke="#000" stroke-width="1.0"/>
<circle cx="302.1" cy="144.0" r="2.2" fill="none" stroke="#000" stroke-width="1.0"/>
<path d="M328.2,170.8 L328.2,220.0" fill="none" stroke="#000" stroke-width="1.0"/>
<path d="M336.8,179.5 L336.8,220.0" fill="none" stroke="#000" stroke-width="1.0"/>
<path d="M328.9,189.6 L333.2,188.9 L333.9,214.2 L329.6,214.2 L328.9,189.6" fill="none" stroke="#000" stroke-width="1.0"/>
<path d="M281.8,193.9 L293.4,199.7 L305.0,196.8 L315.1,204.1 L322.4,211.3" fill="none" stroke="#000" stroke-width="1.0"/>
<path d="M310.8,182.4 L328.2,170.8" fill="none" stroke="#000" stroke-width="1.0"/>
<path d="M278.9,202.6 L287.6,209.9 L293.4,211.3 L300.7,220.0" fill="none" stroke="#000" stroke-width="1.0"/>
<path d="M273.2,163.6 L287.6,165.0" fill="none" stroke="#000" stroke-width="1.0"/>
<path d="M283.3,153.4 L280.4,162.1 L281.1,178.0 L277.5,191.1" fill="none" stroke="#000" stroke-width="1.0"/>
<path d="M303.3,228.9 L307.6,227.5 L316.3,237.6 L319.2,246.3 L316.3,249.2 L310.5,246.3 L304.7,237.6 L303.3,228.9" fill="none" stroke="#000" stroke-width="1.0"/>
<path d="M294.6,221.7 L301.8,218.8 L310.5,224.6 L317.8,234.7 L322.1,243.4 L326.4,255.0 L330.8,262.2" fill="none" stroke="#000" stroke-width="1.0"/>
<path d="M277.2,202.9 L290.3,207.2 L306.2,200.0" fill="none" stroke="#000" stroke-width="1.0"/>
<path d="M290.3,207.2 L290.3,217.4 L296.1,220.3" fill="none" stroke="#000" stroke-width="1.0"/>
<path d="M278.7,218.8 L284.5,223.2 L291.7,236.2" fill="none" stroke="#000" stroke-width="1.0"/>
<path d="M323.6,234.7 L332.2,224.6 L348.2,230.4 L351.1,247.8" fill="none" stroke="#000" stroke-width="1.0"/>
<path d="M316.3,224.6 L322.1,226.1 L323.6,234.7" fill="none" stroke="#000" stroke-width="1.0"/>
<path d="M325.0,200.0 L326.4,214.5 L333.7,213.0 L336.6,200.0" fill="none" stroke="#000" stroke-width="1.0"/>
<path d="M327.9,200.0 L329.3,211.6 L333.7,210.1" fill="none" stroke="#000" stroke-width="1.0"/>
<path d="M353.9,200.0 L353.9,240.5 L359.7,243.4 L371.3,246.3 L377.1,250.7" fill="none" stroke="#000" stroke-width="1.0"/>
<path d="M356.8,214.5 L369.9,217.4 L374.2,224.6 L374.2,246.3" fill="none" stroke="#000" stroke-width="1.0"/>
<path d="M314.9,217.4 L320.7,215.9 L325.0,214.5" fill="none" stroke="#000" stroke-width="1.0"/>
<path d="M325.0,260.8 L335.1,263.7 L340.9,268.0" fill="none" stroke="#000" stroke-width="1.0"/>
<path d="M281.6,226.1 L285.9,224.6 L291.7,231.8 L291.7,236.2" fill="none" stroke="#000" stroke-width="1.0"/>
<path d="M270.0,240.5 L278.7,239.1 L280.1,243.4" fill="none" stroke="#000" stroke-width="1.0"/>
<path d="M356.8,210.3 L356.8,239.3 L367.1,244.5 L377.4,249.6" fill="none" stroke="#000" stroke-width="1.0"/>
<path d="M356.8,210.3 L372.2,213.7 L375.7,220.5 L372.2,230.8 L375.7,251.3" fill="none" stroke="#000" stroke-width="1.0"/>
<path d="M379.1,253.0 L384.2,244.5 L392.8,239.3 L394.5,225.7 L391.1,206.8" fill="none" stroke="#000" stroke-width="1.0"/>
<path d="M389.3,263.3 L392.8,251.3 L401.3,244.5 L406.4,230.8 L404.7,218.8 L397.9,213.7 L399.6,223.9" fill="none" stroke="#000" stroke-width="1.0"/>
<path d="M401.3,265.0 L404.7,254.7 L406.4,244.5" fill="none" stroke="#000" stroke-width="1.0"/>
<path d="M406.4,280.4 L406.4,268.4 L409.9,259.9 L416.7,251.3 L423.6,242.8 L428.7,239.3 L435.5,237.6" fill="none" stroke="#000" stroke-width="1.0"/>
<path d="M415.0,273.6 L418.4,268.4 L427.0,265.0 L435.5,256.4 L440.7,251.3" fill="none" stroke="#000" stroke-width="1.0"/>
<path d="M415.0,275.3 L425.3,270.1 L440.7,268.4 L445.8,267.6" fill="none" stroke="#000" stroke-width="1.0"/>
<path d="M401.3,283.8 L425.3,283.8 L427.0,295.8 L425.3,314.6" fill="none" stroke="#000" stroke-width="1.0"/>
<path d="M353.4,261.6 L377.4,271.8 L384.2,280.4 L397.9,285.5 L418.4,311.2" fill="none" stroke="#000" stroke-width="1.0"/>
<path d="M377.4,270.1 L382.5,280.4 L387.6,292.4" fill="none" stroke="#000" stroke-width="1.0"/>
<circle cx="388.5" cy="275.3" r="3.1" fill="none" stroke="#000" stroke-width="1.0"/>
<circle cx="457.8" cy="292.4" r="3.8" fill="none" stroke="#000" stroke-width="1.0"/>
<path d="M444.1,287.2 L445.8,280.4 L452.6,278.7 L461.2,283.8 L464.6,294.1" fill="none" stroke="#000" stroke-width="1.0"/>
<path d="M413.3,200.0 L415.0,208.6 L421.8,210.3 L423.6,200.0" fill="none" stroke="#000" stroke-width="1.0"/>
<ellipse transform="translate(422.7,222.2) rotate(0)" rx="4.3" ry="6.8" fill="none" stroke="#000" stroke-width="1.0"/>
<path d="M428.7,218.8 L432.1,230.8 L437.2,232.5 L438.9,222.2" fill="none" stroke="#000" stroke-width="1.0"/>
<path d="M409.9,230.8 L411.6,244.5" fill="none" stroke="#000" stroke-width="1.0"/>
<path d="M461.2,333.4 L468.0,335.1 L469.7,347.1" fill="none" stroke="#000" stroke-width="1.0"/>
<path d="M460.3,312.9 L460.3,318.0 L463.8,318.0" fill="none" stroke="#000" stroke-width="1.0"/>
<path d="M445.8,267.6 L456.1,271.8 L462.9,282.1 L468.0,295.8 L469.7,319.7" fill="none" stroke="#000" stroke-width="1.0"/>
<path d="M372.2,280.4 L377.4,285.5 L375.7,288.9" fill="none" stroke="#000" stroke-width="1.0"/>
<path d="M147.1,177.1 L150.7,184.2 L153.0,193.7 L156.6,205.5 L160.1,217.4 L163.7,229.2 L166.1,238.7" fill="none" stroke="#000" stroke-width="1.0"/>
<ellipse transform="translate(168.4,209.1) rotate(-18)" rx="9.7" ry="15.2" fill="none" stroke="#000" stroke-width="1.0"/>
<path d="M154.2,198.4 L157.8,196.1 L163.7,191.3 L170.8,190.1 L179.1,192.5" fill="none" stroke="#000" stroke-width="1.0"/>
<path d="M175.5,188.9 L175.5,185.4" fill="none" stroke="#000" stroke-width="1.0"/>
<path d="M179.1,187.8 L179.1,193.7" fill="none" stroke="#000" stroke-width="1.0"/>
<path d="M162.5,226.8 L166.1,231.6 L173.2,234.0 L180.3,231.6 L185.0,229.2 L194.5,230.4 L196.8,234.0 L189.7,238.7 L181.4,241.1 L175.5,243.4 L170.8,242.2 L163.7,238.7" fill="none" stroke="#000" stroke-width="1.0"/>
<path d="M168.4,236.3 L175.5,237.5 L180.3,236.3" fill="none" stroke="#000" stroke-width="1.0"/>
<path d="M198.0,202.0 L199.2,205.5 L211.1,207.9 L230.0,213.8" fill="none" stroke="#000" stroke-width="1.0"/>
<path d="M201.6,210.3 L211.1,213.8 L230.0,219.7" fill="none" stroke="#000" stroke-width="1.0"/>
<path d="M201.6,219.7 L211.1,222.1 L215.8,226.8 L215.8,247.0 L209.9,250.5 L201.6,245.8 L200.4,226.8 L201.6,219.7" fill="none" stroke="#000" stroke-width="1.0"/>
<path d="M204.0,222.1 L209.9,223.9 L213.4,228.0 L213.4,244.6 L209.9,247.6 L204.0,244.0 L203.4,226.8 L204.0,222.1" fill="none" stroke="#000" stroke-width="1.0"/>
<path d="M185.0,191.3 L189.7,198.4 L195.7,202.0" fill="none" stroke="#000" stroke-width="1.0"/>
<path d="M200.0,207.9 L213.2,213.2 L226.3,219.7 L230.3,225.0 L234.2,226.3 L243.4,228.9 L252.6,232.9 L261.8,239.5 L273.7,246.1 L281.6,252.6 L282.9,265.8" fill="none" stroke="#000" stroke-width="1.0"/>
<path d="M200.0,213.2 L210.5,215.8 L219.7,219.7 L230.3,226.3 L231.6,231.6 L223.7,231.6 L222.4,234.2 L225.0,242.1 L227.6,248.7 L234.2,251.3 L236.8,255.3 L232.9,260.5 L226.3,263.2 L225.0,269.7" fill="none" stroke="#000" stroke-width="1.0"/>
<path d="M201.3,219.7 L203.9,218.4 L211.8,222.4 L215.8,226.3 L217.1,242.1 L213.2,247.4 L206.6,247.4 L202.6,243.4 L201.3,219.7" fill="none" stroke="#000" stroke-width="1.0"/>
<path d="M203.9,222.4 L210.5,225.0 L213.2,242.1 L207.9,244.7 L203.9,242.1 L203.9,222.4" fill="none" stroke="#000" stroke-width="1.0"/>
<path d="M226.3,232.9 L231.6,234.2 L234.2,244.7 L228.9,246.1 L226.3,239.5 L226.3,232.9" fill="none" stroke="#000" stroke-width="1.0"/>
<path d="M235.5,226.3 L250.0,234.2 L252.6,236.8 L252.6,247.4 L240.8,246.1 L236.8,243.4 L235.5,226.3" fill="none" stroke="#000" stroke-width="1.0"/>
<path d="M253.9,244.7 L253.9,276.3 L251.3,281.6" fill="none" stroke="#000" stroke-width="1.0"/>
<path d="M255.3,247.4 L278.9,260.5 L280.3,264.5 L280.3,278.9 L263.2,271.1 L255.3,267.1" fill="none" stroke="#000" stroke-width="1.0"/>
<path d="M239.5,247.4 L243.4,252.6 L244.7,255.3 L242.1,256.6" fill="none" stroke="#000" stroke-width="1.0"/>
<path d="M234.2,261.8 L239.5,257.9 L244.7,260.5 L247.4,268.4 L243.4,272.4 L236.8,268.4 L234.2,261.8" fill="none" stroke="#000" stroke-width="1.0"/>
<path d="M231.6,272.4 L248.7,282.9" fill="none" stroke="#000" stroke-width="1.0"/>
<path d="M252.6,282.9 L255.3,278.9 L261.8,281.6 L265.8,286.8 L268.4,294.7 L273.7,301.3 L278.9,303.9 L281.6,309.2" fill="none" stroke="#000" stroke-width="1.0"/>
<path d="M255.3,284.2 L257.9,289.5 L261.8,293.4 L268.4,302.6 L273.7,305.3" fill="none" stroke="#000" stroke-width="1.0"/>
<path d="M260.5,273.7 L265.8,276.3 L278.9,282.9 L284.2,285.5" fill="none" stroke="#000" stroke-width="1.0"/>
<path d="M264.5,280.3 L269.7,289.5 L277.6,292.1 L284.2,294.7" fill="none" stroke="#000" stroke-width="1.0"/>
<path d="M234.2,286.8 L242.1,290.8 L252.6,297.4 L268.4,307.9" fill="none" stroke="#000" stroke-width="1.0"/>
<path d="M200.0,257.9 L213.2,261.8 L226.3,268.4" fill="none" stroke="#000" stroke-width="1.0"/>
<path d="M355.3,193.4 L358.9,188.8 L370.5,187.9 L376.6,199.9 L376.6,249.9 L369.1,250.2 L356.8,242.6 L354.6,236.8 L355.3,193.4" fill="none" stroke="#000" stroke-width="1.0"/>
<path d="M362.1,197.8 L364.0,194.9 L366.9,195.2 L367.9,199.2 L367.3,208.6 L364.7,209.6 L362.6,207.9 L362.1,197.8" fill="none" stroke="#000" stroke-width="1.0"/>
<path d="M356.1,212.2 L373.4,216.6 L375.2,222.4 L373.4,231.1 L376.3,236.8" fill="none" stroke="#000" stroke-width="1.0"/>
<path d="M389.3,206.4 L393.7,207.9 L392.2,236.8 L380.7,248.4" fill="none" stroke="#000" stroke-width="1.0"/>
<path d="M399.5,216.6 L406.7,218.0 L408.2,231.1" fill="none" stroke="#000" stroke-width="1.0"/>
<ellipse transform="translate(421.9,222.4) rotate(0)" rx="5.8" ry="8.7" fill="none" stroke="#000" stroke-width="1.0"/>
<ellipse transform="translate(421.9,222.4) rotate(0)" rx="3.6" ry="6.5" fill="none" stroke="#000" stroke-width="1.0"/>
<path d="M330.0,170.3 L338.7,173.2 L358.9,186.2 L380.7,186.2 L392.2,189.1 L405.3,197.8 L416.8,206.4" fill="none" stroke="#000" stroke-width="1.0"/>
<path d="M405.3,197.8 L405.3,210.8 L411.1,218.0 L416.8,216.6" fill="none" stroke="#000" stroke-width="1.0"/>
<path d="M149.2,454.2 L152.0,451.9 L167.6,451.9 L186.0,452.8 L206.3,453.8 L207.2,457.0 L204.5,457.9 L200.8,460.7 L198.9,463.4 L194.3,470.8 L190.7,475.4 L191.6,483.7 L187.9,487.4 L187.0,492.9 L186.1,500.3 L183.3,501.2 L177.8,497.5 L175.9,492.9 L174.1,489.2 L163.0,483.7 L153.8,478.2 L148.3,472.6 L147.4,468.0 L149.2,463.4 L150.1,457.9 Z" fill="#fff" stroke="#000" stroke-width="1.0" stroke-linejoin="round"/>
<path d="M152.0,451.9 L155.7,457.0 L176.8,459.7 L195.3,462.5 L200.8,460.7" fill="none" stroke="#000" stroke-width="1.0"/>
<path d="M155.7,457.0 L165.8,461.6 L178.7,468.9 L193.4,471.7" fill="none" stroke="#000" stroke-width="1.0"/>
<path d="M151.0,459.7 L163.0,468.0 L176.8,475.4 L190.7,476.3" fill="none" stroke="#000" stroke-width="1.0"/>
<path d="M153.8,465.3 L167.6,472.6 L178.7,478.2 L187.9,480.0" fill="none" stroke="#000" stroke-width="1.0"/>
<path d="M148.3,466.2 L158.4,471.7 L172.2,480.0 L186.1,485.5" fill="none" stroke="#000" stroke-width="1.0"/>
<path d="M153.8,473.5 L165.8,478.2 L175.0,482.8" fill="none" stroke="#000" stroke-width="1.0"/>
<path d="M165.8,461.6 L175.9,467.1 L172.2,471.7" fill="none" stroke="#000" stroke-width="1.0"/>
<path d="M184.2,476.3 L190.7,476.3 L190.7,483.7 L186.1,483.7" fill="none" stroke="#000" stroke-width="1.0"/>
<path d="M186.0,477.0 L186.0,483.0" fill="none" stroke="#000" stroke-width="1.0"/>
<path d="M176.8,492.9 L178.7,496.6 L185.1,499.4" fill="none" stroke="#000" stroke-width="1.0"/>
<path d="M181.0,456.5 L184.0,457.5 L182.0,459.0" fill="none" stroke="#000" stroke-width="1.0"/>
<path d="M188.0,457.0 L192.0,458.0 L195.0,457.0" fill="none" stroke="#000" stroke-width="1.0"/>
<circle cx="150.6" cy="469" r="1.4" fill="none" stroke="#000" stroke-width="1"/>
<path d="M157.0,453.0 L160.0,455.0" fill="none" stroke="#000" stroke-width="1.0"/>
<path d="M170.0,461.0 L172.0,463.0" fill="none" stroke="#000" stroke-width="1.0"/>
<path d="M145.0,462.0 L137.0,465.5 L137.0,470.0" fill="none" stroke="#000" stroke-width="1.0" stroke-dasharray="6,3"/>
<path d="M178.6,528.0 L177.7,519.5 L180.3,516.1 L185.4,509.2 L188.8,502.4 L193.9,493.8 L197.4,485.3 L202.5,476.7 L207.6,466.4 L212.8,457.9 L217.9,449.3 L221.3,441.6 L224.7,438.2 L226.4,435.7 L224.7,432.2 L228.2,430.5 L238.4,426.3 L247.0,422.0 L252.1,417.7 L255.5,416.0 L258.9,418.6 L267.5,421.1 L274.3,423.7 L276.1,425.4 L282.9,427.1 L283.8,435.7 L288.0,439.9 L289.7,441.6 L289.7,449.3 L284.6,448.5 L272.6,445.9 L265.8,443.4 L255.5,441.6 L248.7,442.5 L243.6,445.9 L241.0,451.1 L241.8,459.6 L245.3,466.4 L248.7,473.3 L252.1,481.8 L253.0,490.4 L250.4,493.8 L257.2,498.9 L263.2,503.2 L263.2,512.6 L258.9,513.5 L243.6,516.1 L228.2,519.5 L217.9,522.9 L211.1,523.8 L209.3,526.3 L204.2,526.3 L195.7,529.7 L187.1,531.5 L180.3,531.5 Z" fill="#fff" stroke="#000" stroke-width="1.0" stroke-linejoin="round"/>
<path d="M185.4,512.6 L190.5,505.8 L197.4,493.8 L202.5,483.6 L207.6,473.3 L212.8,464.7 L217.9,456.2 L223.0,447.6 L229.0,440.8" fill="none" stroke="#000" stroke-width="1.0"/>
<path d="M192.2,512.6 L198.2,502.4 L204.2,490.4 L209.3,480.1 L214.5,469.9 L219.6,461.3 L224.7,452.8 L229.9,446.8 L236.7,440.8" fill="none" stroke="#000" stroke-width="1.0"/>
<path d="M184.7,509.4 L194.9,507.3" fill="none" stroke="#000" stroke-width="1.0"/>
<path d="M189.1,501.7 L199.6,499.6" fill="none" stroke="#000" stroke-width="1.0"/>
<path d="M193.5,494.0 L204.4,491.9" fill="none" stroke="#000" stroke-width="1.0"/>
<path d="M197.9,486.3 L209.2,484.2" fill="none" stroke="#000" stroke-width="1.0"/>
<path d="M202.3,478.6 L213.9,476.5" fill="none" stroke="#000" stroke-width="1.0"/>
<path d="M206.7,470.9 L218.7,468.8" fill="none" stroke="#000" stroke-width="1.0"/>
<path d="M211.1,463.2 L223.5,461.1" fill="none" stroke="#000" stroke-width="1.0"/>
<path d="M215.5,455.5 L228.2,453.4" fill="none" stroke="#000" stroke-width="1.0"/>
<path d="M219.9,447.8 L233.0,445.8" fill="none" stroke="#000" stroke-width="1.0"/>
<path d="M226.4,435.7 L238.4,430.5 L252.1,423.7 L258.9,421.1 L267.5,422.8" fill="none" stroke="#000" stroke-width="1.0"/>
<path d="M229.9,439.9 L241.8,433.9 L255.5,427.1 L265.8,425.4 L274.3,425.4" fill="none" stroke="#000" stroke-width="1.0"/>
<path d="M236.7,440.8 L247.0,437.4 L258.9,432.2 L267.5,430.5 L274.3,432.2 L276.1,439.1 L282.9,442.5" fill="none" stroke="#000" stroke-width="1.0"/>
<path d="M276.1,425.4 L276.1,439.1" fill="none" stroke="#000" stroke-width="1.0"/>
<path d="M283.8,435.7 L276.1,435.7" fill="none" stroke="#000" stroke-width="1.0"/>
<path d="M248.7,433.9 L250.4,442.5" fill="none" stroke="#000" stroke-width="1.0"/>
<path d="M252.1,432.2 L265.8,432.2" fill="none" stroke="#000" stroke-width="1.0"/>
<path d="M229.9,461.3 L234.1,461.3 L233.3,457.9" fill="none" stroke="#000" stroke-width="1.0"/>
<ellipse transform="translate(229.9,476.4) rotate(-10)" rx="6.0" ry="3.1" fill="none" stroke="#000" stroke-width="1.0"/>
<path d="M228.2,477.6 L229.9,475.0 L232.4,477.1" fill="none" stroke="#000" stroke-width="1.0"/>
<path d="M212.8,490.4 L219.6,487.8 L229.9,486.1 L241.8,483.6 L250.4,478.4" fill="none" stroke="#000" stroke-width="1.0"/>
<path d="M211.1,498.9 L212.8,492.1 L217.9,488.7 L229.9,487.0 L229.9,495.5 L224.7,498.9 L211.1,498.9" fill="none" stroke="#000" stroke-width="1.0"/>
<path d="M211.1,505.8 L212.8,500.7 L229.9,498.9 L241.8,495.5 L243.6,490.4" fill="none" stroke="#000" stroke-width="1.0"/>
<path d="M211.1,505.8 L241.8,502.4 L245.3,498.9 L250.4,493.8" fill="none" stroke="#000" stroke-width="1.0"/>
<path d="M180.3,521.2 L204.2,516.1 L241.8,507.5 L262.4,503.2" fill="none" stroke="#000" stroke-width="1.0"/>
<path d="M204.2,516.1 L205.9,526.3" fill="none" stroke="#000" stroke-width="1.0"/>
<path d="M241.8,507.5 L243.6,516.1" fill="none" stroke="#000" stroke-width="1.0"/>
<path d="M193.9,505.8 L204.2,512.6 L205.9,516.1" fill="none" stroke="#000" stroke-width="1.0"/>
<path d="M197.4,526.3 L199.1,525.0 L201.6,526.0 L199.9,528.0" fill="none" stroke="#000" stroke-width="1.0"/>
<path d="M234.9,380.5 L239.5,377.9 L244.7,377.9 L250.0,380.5 L255.3,382.5 L257.2,384.5 L257.9,397.6 L259.2,399.6 L263.2,401.6 L263.8,403.6 L260.5,405.5 L257.9,403.6 L255.3,402.9 L250.0,406.8 L246.1,409.5 L245.4,415.4 L242.1,417.4 L238.8,416.7 L236.2,414.1 L231.6,412.8 L228.3,411.8 L228.9,409.5 L232.9,408.8 L236.8,407.5 L237.5,401.6 L236.8,395.0 L236.2,389.7 L234.5,384.5 Z" fill="#fff" stroke="#000" stroke-width="1.0" stroke-linejoin="round"/>
<path d="M239.5,377.9 L242.1,383.2 L244.7,384.5 L250.0,381.8 L255.3,382.5" fill="none" stroke="#000" stroke-width="1.0"/>
<path d="M242.1,383.2 L245.4,388.4 L246.7,409.5" fill="none" stroke="#000" stroke-width="1.0"/>
<path d="M245.4,388.4 L256.8,383.8" fill="none" stroke="#000" stroke-width="1.0"/>
<path d="M248.0,393.0 L255.3,389.7 L255.9,401.6 L248.7,404.2 L248.0,393.0" fill="none" stroke="#000" stroke-width="1.0"/>
<circle cx="240.1" cy="382.5" r="1.6" fill="none" stroke="#000" stroke-width="1.0"/>
<path d="M239.5,400.3 L242.1,401.6 L240.8,404.2" fill="none" stroke="#000" stroke-width="1.0"/>
<path d="M236.8,407.5 L239.5,412.1 L244.7,413.4" fill="none" stroke="#000" stroke-width="1.0"/>
<path d="M267.4,467.5 L269.7,465.1 L273.3,464.5 L276.8,460.4 L283.9,454.5 L293.4,451.5 L300.5,449.7 L310.0,450.3 L317.1,449.7 L321.8,449.7 L329.0,454.5 L334.9,458.0 L336.6,462.8 L337.2,471.1 L340.8,477.0 L345.5,482.9 L347.9,492.4 L349.1,504.2 L350.9,507.8 L350.3,516.1 L346.7,527.9 L346.7,535.0 L340.8,539.7 L331.3,543.3 L324.2,545.7 L317.1,544.5 L310.0,542.1 L300.5,540.9 L288.7,540.3 L288.1,527.9 L286.3,518.4 L283.9,512.5 L279.2,504.2 L274.5,494.7 L269.7,487.6 L266.8,482.9 Z" fill="#fff" stroke="#000" stroke-width="1.0" stroke-linejoin="round"/>
<path d="M294.6,453.9 L300.5,450.3 L310.0,450.9 L314.7,454.5 L315.9,459.2 L312.4,462.8 L305.3,463.9 L297.0,461.6 L294.6,456.8 L294.6,453.9" fill="none" stroke="#000" stroke-width="1.0"/>
<ellipse transform="translate(305.3,453.9) rotate(0)" rx="5.9" ry="3.3" fill="none" stroke="#000" stroke-width="1.0"/>
<path d="M283.9,454.5 L280.4,462.8 L280.4,468.7 L288.7,471.1 L298.2,472.2 L300.5,480.5 L314.7,479.3 L324.2,473.4 L334.9,471.1 L336.6,462.8" fill="none" stroke="#000" stroke-width="1.0"/>
<path d="M273.3,464.5 L274.5,471.1 L288.7,475.8 L299.3,479.3" fill="none" stroke="#000" stroke-width="1.0"/>
<path d="M298.2,472.2 L300.5,468.7 L310.0,467.5 L318.3,468.7 L324.2,473.4" fill="none" stroke="#000" stroke-width="1.0"/>
<path d="M299.3,485.3 L304.1,484.1 L315.9,486.4 L313.6,494.7 L312.4,504.2 L302.9,505.4 L299.3,501.8 L299.3,485.3" fill="none" stroke="#000" stroke-width="1.0"/>
<path d="M315.9,487.6 L321.8,485.3 L331.3,488.8 L333.7,498.3 L336.1,512.5 L337.2,516.1 L336.1,525.5 L329.0,530.3 L324.2,527.9 L319.5,518.4 L315.9,506.6 L315.9,487.6" fill="none" stroke="#000" stroke-width="1.0"/>
<circle cx="325.4" cy="491.2" r="1.1" fill="none" stroke="#000" stroke-width="1.0"/>
<circle cx="329.0" cy="495.3" r="1.1" fill="none" stroke="#000" stroke-width="1.0"/>
<circle cx="321.8" cy="499.5" r="1.1" fill="none" stroke="#000" stroke-width="1.0"/>
<circle cx="330.1" cy="507.8" r="1.1" fill="none" stroke="#000" stroke-width="1.0"/>
<circle cx="329.5" cy="520.8" r="1.1" fill="none" stroke="#000" stroke-width="1.0"/>
<circle cx="306.4" cy="519.6" r="1.1" fill="none" stroke="#000" stroke-width="1.0"/>
<path d="M288.7,525.5 L300.5,526.7 L304.1,527.9 L315.9,526.7 L318.3,532.6 L312.4,536.2 L304.1,536.2 L300.5,535.0 L288.7,539.7" fill="none" stroke="#000" stroke-width="1.0"/>
<path d="M294.6,527.9 L294.6,536.2" fill="none" stroke="#000" stroke-width="1.0"/>
<circle cx="313.6" cy="532.0" r="2.6" fill="none" stroke="#000" stroke-width="1.0"/>
<path d="M269.7,487.6 L274.5,484.1 L278.0,490.0 L285.1,509.0 L297.0,512.5" fill="none" stroke="#000" stroke-width="1.0"/>
<path d="M285.1,511.3 L293.4,511.3 L297.0,513.7 L294.6,516.1 L286.3,516.1" fill="none" stroke="#000" stroke-width="1.0"/>
<path d="M336.1,516.1 L346.7,516.1 L347.9,520.8 L342.0,527.9 L337.2,526.7" fill="none" stroke="#000" stroke-width="1.0"/>
<path d="M338.4,477.0 L340.8,480.5 L342.0,504.2 L338.4,513.7" fill="none" stroke="#000" stroke-width="1.0"/>
<path d="M336.1,471.1 L340.8,490.0 L345.5,504.2" fill="none" stroke="#000" stroke-width="1.0"/>
<path d="M317.1,449.7 L320.7,454.5 L326.6,455.7 L329.0,454.5" fill="none" stroke="#000" stroke-width="1.0"/>
<path d="M319.5,452.1 L324.2,458.0 L323.0,461.6" fill="none" stroke="#000" stroke-width="1.0"/>
<path d="M310.0,506.6 L314.7,518.4 L320.7,527.9 L324.2,535.0 L331.3,543.3" fill="none" stroke="#000" stroke-width="1.0"/>
<path d="M272.1,472.2 L267.4,474.6 L268.0,482.9 L272.1,486.4" fill="none" stroke="#000" stroke-width="1.0"/>
<path d="M342.6,471.1 L348.9,462.6 L355.3,455.3 L359.5,454.6 L367.9,457.4 L376.3,461.6 L380.5,468.9 L377.4,472.7 L372.1,470.0 L367.9,471.1 L361.6,473.2 L355.3,475.3 L351.1,480.5 L347.9,479.5 Z" fill="#fff" stroke="#000" stroke-width="1.0" stroke-linejoin="round"/>
<path d="M355.3,455.3 L357.4,462.6 L363.7,464.7 L367.9,457.4" fill="none" stroke="#000" stroke-width="1.0"/>
<path d="M357.4,462.6 L355.3,473.2" fill="none" stroke="#000" stroke-width="1.0"/>
<path d="M363.7,464.7 L367.9,471.1" fill="none" stroke="#000" stroke-width="1.0"/>
<circle cx="356.9" cy="466.4" r="1.7" fill="none" stroke="#000" stroke-width="1.0"/>
<circle cx="358.4" cy="457.4" r="1.3" fill="none" stroke="#000" stroke-width="1.0"/>
<path d="M446.9,442.7 L450.3,440.4 L457.2,441.1 L463.0,446.1 L473.4,448.0 L478.0,449.6 L479.8,455.3 L478.0,457.6 L472.2,456.5 L467.6,455.3 L463.0,453.0 L459.5,449.6 L454.9,450.7 L451.5,455.3 L450.3,459.9 L448.0,465.7 L444.6,466.8 L441.6,459.9 L445.7,453.0 Z" fill="#fff" stroke="#000" stroke-width="1.0" stroke-linejoin="round"/>
<path d="M450.3,440.4 L452.6,448.4 L459.5,449.6" fill="none" stroke="#000" stroke-width="1.0"/>
<path d="M463.0,446.1 L466.4,453.0 L472.2,456.5" fill="none" stroke="#000" stroke-width="1.0"/>
<path d="M445.7,459.9 L449.2,462.2" fill="none" stroke="#000" stroke-width="1.0"/>
<path d="M432.8,531.1 L435.5,520.0 L438.3,517.3 L443.8,514.5 L445.2,503.4 L448.0,489.6 L452.1,473.1 L457.6,467.5 L465.9,464.8 L474.2,464.8 L482.5,467.5 L490.8,471.7 L499.1,475.8 L507.4,481.3 L515.7,486.9 L525.3,492.4 L526.7,502.1 L528.1,507.6 L532.2,514.5 L531.5,518.6 L526.7,515.9 L518.4,510.4 L510.1,507.6 L501.8,507.6 L496.3,510.4 L494.9,514.5 L497.7,520.0 L500.5,528.3 L501.8,538.0 L499.1,543.5 L494.9,546.3 L488.0,547.7 L482.5,544.9 L479.7,538.0 L479.7,524.2 L482.5,520.0 L478.4,517.3 L468.7,515.9 L457.6,517.3 L449.3,520.0 L441.1,524.2 L435.5,529.7 Z" fill="#fff" stroke="#000" stroke-width="1.0" stroke-linejoin="round"/>
<ellipse transform="translate(475.6,471.9) rotate(0)" rx="9.9" ry="6.4" fill="none" stroke="#000" stroke-width="1.0"/>
<path d="M467.3,470.3 L470.1,466.8 L477.0,466.1 L482.5,468.2 L483.9,471.7 L481.1,474.4 L474.2,475.1 L468.7,473.7 L467.3,470.3" fill="none" stroke="#000" stroke-width="1.0"/>
<path d="M452.1,473.1 L460.4,480.0 L468.7,484.1 L485.3,485.5 L499.1,482.7 L507.4,481.3" fill="none" stroke="#000" stroke-width="1.0"/>
<path d="M457.6,467.5 L459.0,475.8 L463.2,480.0" fill="none" stroke="#000" stroke-width="1.0"/>
<path d="M448.0,489.6 L457.6,493.8 L464.5,503.4 L467.3,514.5" fill="none" stroke="#000" stroke-width="1.0"/>
<path d="M467.3,493.8 L481.1,491.0 L492.2,489.6 L507.4,488.3 L510.1,495.2 L518.4,496.5 L525.3,492.4" fill="none" stroke="#000" stroke-width="1.0"/>
<path d="M468.7,493.8 L470.1,511.7 L479.7,510.4 L482.5,506.2 L492.2,504.8 L506.0,504.8 L507.4,489.6" fill="none" stroke="#000" stroke-width="1.0"/>
<path d="M482.5,495.2 L483.9,503.4" fill="none" stroke="#000" stroke-width="1.0"/>
<path d="M492.2,489.6 L493.6,503.4" fill="none" stroke="#000" stroke-width="1.0"/>
<ellipse transform="translate(486.6,506.2) rotate(0)" rx="3.5" ry="2.5" fill="none" stroke="#000" stroke-width="1.0"/>
<ellipse transform="translate(450.7,493.8) rotate(0)" rx="4.1" ry="6.9" fill="none" stroke="#000" stroke-width="1.0"/>
<path d="M482.5,522.8 L483.9,539.4 L489.4,544.9 L496.3,543.5 L499.1,536.6 L497.7,522.8 L494.9,517.3" fill="none" stroke="#000" stroke-width="1.0"/>
<path d="M485.3,524.2 L486.6,538.0 L490.8,542.1" fill="none" stroke="#000" stroke-width="1.0"/>
<path d="M435.5,520.0 L443.8,517.3 L457.6,517.3 L471.4,514.5 L478.4,514.5" fill="none" stroke="#000" stroke-width="1.0"/>
<path d="M452.1,504.8 L456.3,503.4 L456.9,507.6 L454.2,509.0 L456.9,510.4 L456.3,513.1 L452.1,512.4" fill="none" stroke="#000" stroke-width="1.0"/>
<path d="M499.1,475.8 L500.5,482.7" fill="none" stroke="#000" stroke-width="1.0"/>
<path d="M510.1,495.2 L526.7,502.1" fill="none" stroke="#000" stroke-width="1.0"/>
<path d="M540.1,510.6 L542.4,488.7 L547.0,485.3 L553.9,484.8 L558.5,487.6 L563.2,491.0 L565.5,499.1 L570.1,507.1 L574.7,511.7 L573.5,514.0 L565.5,512.9 L560.9,508.3 L556.2,509.4 L553.9,515.2 L551.6,518.6 L544.7,517.5 L540.1,516.3 L537.8,514.0 Z" fill="#fff" stroke="#000" stroke-width="1.0" stroke-linejoin="round"/>
<path d="M547.0,485.3 L549.3,492.2 L557.4,494.5 L563.2,491.0" fill="none" stroke="#000" stroke-width="1.0"/>
<path d="M549.3,492.2 L547.0,506.0 L550.5,515.2" fill="none" stroke="#000" stroke-width="1.0"/>
<path d="M553.9,495.6 L556.2,508.3" fill="none" stroke="#000" stroke-width="1.0"/>
<circle cx="548.2" cy="490.3" r="1.8" fill="none" stroke="#000" stroke-width="1.0"/>
<path d="M557.4,496.8 L563.2,499.1" fill="none" stroke="#000" stroke-width="1.0"/>
<path d="M557.4,499.1 L563.2,501.4" fill="none" stroke="#000" stroke-width="1.0"/>
<path d="M557.4,501.4 L563.2,503.7" fill="none" stroke="#000" stroke-width="1.0"/>
<path d="M557.4,503.7 L563.2,506.0" fill="none" stroke="#000" stroke-width="1.0"/>
<path d="M449.9,588.0 L450.9,585.1 L462.8,580.1 L466.7,574.2 L474.6,564.3 L484.5,557.4 L496.3,553.5 L510.1,550.5 L522.0,546.6 L526.9,540.7 L529.9,532.8 L531.8,529.8 L543.7,526.8 L559.5,522.9 L571.3,519.9 L575.3,520.9 L583.1,520.9 L587.1,522.9 L592.0,526.8 L591.0,532.8 L587.1,536.7 L586.1,544.6 L581.2,545.6 L577.2,544.6 L571.3,547.6 L563.4,547.6 L555.5,546.6 L547.6,544.6 L541.7,541.6 L537.8,544.6 L533.8,550.5 L527.9,558.4 L520.0,566.3 L512.1,570.3 L504.2,574.2 L498.3,578.2 L500.3,586.0 L496.3,592.0 L484.5,595.9 L474.6,595.9 L464.7,599.9 L454.9,603.8 L450.9,601.8 Z" fill="#fff" stroke="#000" stroke-width="1.0" stroke-linejoin="round"/>
<path d="M531.8,529.8 L535.8,534.7 L541.7,536.7 L555.5,533.7 L575.3,528.8 L587.1,522.9" fill="none" stroke="#000" stroke-width="1.0"/>
<path d="M541.7,536.7 L543.7,540.7 L555.5,541.6 L571.3,539.7 L583.1,536.7" fill="none" stroke="#000" stroke-width="1.0"/>
<path d="M466.7,574.2 L484.5,564.3 L504.2,557.4 L523.9,550.5 L531.8,546.6 L535.8,534.7" fill="none" stroke="#000" stroke-width="1.0"/>
<path d="M464.7,582.1 L484.5,574.2 L504.2,568.3 L520.0,564.3 L533.8,554.5 L541.7,541.6" fill="none" stroke="#000" stroke-width="1.0"/>
<path d="M474.6,572.7 L477.6,577.9" fill="none" stroke="#000" stroke-width="1.0"/>
<path d="M484.5,568.9 L487.4,574.6" fill="none" stroke="#000" stroke-width="1.0"/>
<path d="M494.3,565.0 L497.3,571.3" fill="none" stroke="#000" stroke-width="1.0"/>
<path d="M504.2,561.2 L507.2,568.1" fill="none" stroke="#000" stroke-width="1.0"/>
<path d="M514.1,557.3 L517.0,564.8" fill="none" stroke="#000" stroke-width="1.0"/>
<path d="M523.9,553.5 L526.9,561.6" fill="none" stroke="#000" stroke-width="1.0"/>
<circle cx="486.8" cy="586.0" r="4.9" fill="none" stroke="#000" stroke-width="1.0"/>
<circle cx="514.1" cy="562.4" r="3.6" fill="none" stroke="#000" stroke-width="1.0"/>
<circle cx="470.7" cy="594.9" r="2.0" fill="none" stroke="#000" stroke-width="1.0"/>
<circle cx="456.8" cy="593.9" r="1.2" fill="none" stroke="#000" stroke-width="1.0"/>
<path d="M450.9,588.0 L464.7,584.1 L480.5,582.1 L496.3,580.1" fill="none" stroke="#000" stroke-width="1.0"/>
<path d="M478.6,578.2 L492.4,574.2 L498.3,578.2" fill="none" stroke="#000" stroke-width="1.0"/>
<path d="M526.9,540.7 L535.8,544.6" fill="none" stroke="#000" stroke-width="1.0"/>
<path d="M571.3,519.9 L572.3,526.8 L583.1,528.8 L587.1,536.7" fill="none" stroke="#000" stroke-width="1.0"/>
<path d="M561.4,536.7 L567.4,534.7 L575.3,536.7 L579.2,540.7" fill="none" stroke="#000" stroke-width="1.0"/>
<path d="M563.4,547.6 L565.4,542.6 L575.3,541.6" fill="none" stroke="#000" stroke-width="1.0"/>
<path d="M583.1,520.9 L584.1,526.8 L592.0,526.8" fill="none" stroke="#000" stroke-width="1.0"/>
<path d="M510.1,583.1 L516.0,578.2 L523.9,574.2 L529.9,570.3 L535.8,564.3 L541.7,560.4 L545.7,561.4 L551.6,568.3 L557.5,574.2 L563.4,584.1 L565.4,590.0 L561.4,595.9 L560.5,601.8 L557.5,607.8 L553.5,610.7 L549.6,609.7 L543.7,605.8 L537.8,601.8 L529.9,597.9 L522.0,593.9 L514.1,588.0 Z" fill="#fff" stroke="#000" stroke-width="1.0" stroke-linejoin="round"/>
<path d="M516.0,578.2 L523.9,586.0 L531.8,592.0 L543.7,597.9 L559.5,601.8" fill="none" stroke="#000" stroke-width="1.0"/>
<path d="M523.9,574.2 L529.9,582.1 L537.8,588.0 L547.6,592.0 L561.4,595.9" fill="none" stroke="#000" stroke-width="1.0"/>
<path d="M535.8,564.3 L539.7,574.2 L543.7,582.1 L551.6,590.0 L563.4,588.0" fill="none" stroke="#000" stroke-width="1.0"/>
<path d="M541.7,560.4 L547.6,572.2 L553.5,582.1 L563.4,584.1" fill="none" stroke="#000" stroke-width="1.0"/>
<path d="M529.9,570.3 L533.8,578.2 L535.8,586.0" fill="none" stroke="#000" stroke-width="1.0"/>
<path d="M527.9,576.2 L531.8,593.9" fill="none" stroke="#000" stroke-width="1.0"/>
<path d="M533.8,574.2 L537.8,595.9" fill="none" stroke="#000" stroke-width="1.0"/>
<path d="M539.7,572.2 L543.7,597.9" fill="none" stroke="#000" stroke-width="1.0"/>
<path d="M546.6,594.9 L548.6,595.9" fill="none" stroke="#000" stroke-width="1.0"/>
<path d="M550.6,595.5 L552.6,596.5" fill="none" stroke="#000" stroke-width="1.0"/>
<path d="M554.5,596.9 L556.5,597.9" fill="none" stroke="#000" stroke-width="1.0"/>
<path d="M543.7,601.8 L553.5,607.8 L559.5,605.8" fill="none" stroke="#000" stroke-width="1.0"/>
<path d="M78.3,609.7 L80.3,606.4 L83.6,602.8 L88.2,601.8 L87.5,593.9 L90.1,592.6 L91.4,593.3 L92.1,596.6 L96.1,595.2 L100.0,595.2 L103.9,596.6 L109.2,599.8 L114.5,603.1 L121.1,606.4 L121.7,615.6 L119.7,618.3 L114.5,616.9 L111.8,614.3 L103.3,615.6 L94.7,616.3 L84.9,615.6 L81.6,614.3 L79.6,612.3 Z" fill="#fff" stroke="#000" stroke-width="1.0" stroke-linejoin="round"/>
<path d="M83.6,605.1 L94.1,605.1 L94.1,613.7 L83.6,613.7" fill="none" stroke="#000" stroke-width="1.0"/>
<path d="M96.2,600.0 L96.2,616.0" fill="none" stroke="#000" stroke-width="1.0" stroke-dasharray="2,2"/>
<path d="M100.0,595.2 L100.0,614.0" fill="none" stroke="#000" stroke-width="1.0"/>
<path d="M101.0,597.0 L121.0,610.0" fill="none" stroke="#000" stroke-width="1.0"/>
<path d="M101.0,601.0 L118.0,614.0" fill="none" stroke="#000" stroke-width="1.0"/>
<path d="M103.0,605.0 L112.0,614.0" fill="none" stroke="#000" stroke-width="1.0"/>
<path d="M104.0,597.0 L119.0,607.0" fill="none" stroke="#000" stroke-width="1.0"/>
<path d="M108.0,603.0 L116.0,612.0" fill="none" stroke="#000" stroke-width="1.0"/>
<path d="M89.0,596.0 L93.0,598.0" fill="none" stroke="#000" stroke-width="1.0"/>
<path d="M88.5,598.5 L92.5,600.5" fill="none" stroke="#000" stroke-width="1.0"/>
<circle cx="81.5" cy="609.5" r="1.3" fill="none" stroke="#000" stroke-width="1"/>
<path d="M86.0,612.0 L93.0,612.0" fill="none" stroke="#000" stroke-width="1.5"/>
<path d="M118.0,608.0 L118.0,616.0" fill="none" stroke="#000" stroke-width="1.5"/>
<path d="M382.3,628.9 L384.6,628.3 L391.2,632.2 L399.7,637.5 L405.6,643.4 L410.9,646.7 L415.5,646.1 L416.8,648.7 L418.1,653.3 L421.4,659.2 L424.1,664.5 L423.4,668.4 L420.1,672.4 L415.5,675.7 L411.6,677.6 L406.9,675.7 L400.4,671.1 L395.1,667.8 L391.8,665.8 L391.2,659.9 L390.5,657.9 L391.2,652.6 L391.2,649.3 L393.8,647.4 L387.9,643.4 L384.6,642.1 L383.9,639.5 L383.3,634.9 Z" fill="#fff" stroke="#000" stroke-width="1.0" stroke-linejoin="round"/>
<path d="M384.6,630.9 L399.7,639.5" fill="none" stroke="#000" stroke-width="1.0"/>
<path d="M385.9,634.9 L400.4,642.1" fill="none" stroke="#000" stroke-width="1.0"/>
<path d="M384.6,638.8 L397.7,646.1" fill="none" stroke="#000" stroke-width="1.0"/>
<path d="M386.6,632.9 L387.2,635.5" fill="none" stroke="#000" stroke-width="1.0"/>
<path d="M390.5,635.5 L391.2,638.8" fill="none" stroke="#000" stroke-width="1.0"/>
<path d="M394.4,637.5 L395.1,640.8" fill="none" stroke="#000" stroke-width="1.0"/>
<path d="M387.9,640.8 L394.4,644.7" fill="none" stroke="#000" stroke-width="1.0"/>
<path d="M399.7,637.5 L401.0,644.1 L409.6,649.3 L413.5,650.0 L415.5,646.1" fill="none" stroke="#000" stroke-width="1.0"/>
<path d="M391.8,650.0 L404.3,650.0 L404.3,662.5 L392.5,663.2" fill="none" stroke="#000" stroke-width="1.0"/>
<path d="M404.3,650.0 L408.9,651.3 L409.6,665.8 L411.6,671.1 L411.6,677.6" fill="none" stroke="#000" stroke-width="1.0"/>
<path d="M409.6,653.9 L412.9,655.9 L413.5,671.1 L412.2,673.7" fill="none" stroke="#000" stroke-width="1.0"/>
<path d="M413.5,650.0 L414.8,654.6 L417.5,661.8 L418.8,671.1" fill="none" stroke="#000" stroke-width="1.0"/>
<path d="M394.4,665.8 L407.6,667.8 L410.9,671.1" fill="none" stroke="#000" stroke-width="1.0"/>
<path d="M395.8,667.1 L407.6,671.1 L410.9,673.0" fill="none" stroke="#000" stroke-width="1.0"/>
<circle cx="420.1" cy="667.1" r="0.8" fill="none" stroke="#000" stroke-width="1.0"/>
<circle cx="393.1" cy="657.9" r="0.9" fill="none" stroke="#000" stroke-width="1.0"/>
<path d="M299.8,746.4 L300.4,741.7 L303.9,739.9 L307.5,739.3 L309.8,741.1 L313.4,737.5 L315.8,734.6 L321.7,732.2 L326.4,729.8 L333.5,729.3 L335.9,727.5 L335.9,722.7 L341.8,721.6 L347.7,720.4 L351.3,721.6 L356.0,725.1 L357.2,729.8 L354.8,731.0 L350.1,732.2 L348.9,734.6 L354.8,736.9 L362.0,740.5 L366.7,741.7 L373.8,742.9 L380.9,746.4 L385.6,748.8 L389.5,760.4 L395.4,760.4 L409.6,767.5 L427.4,775.8 L430.9,774.6 L436.8,773.4 L442.8,775.8 L448.7,779.3 L449.9,782.9 L446.3,785.3 L448.7,790.0 L449.9,799.5 L449.9,804.2 L453.4,806.6 L455.8,807.8 L460.5,813.7 L465.3,820.8 L465.3,824.3 L460.5,826.7 L455.8,827.9 L451.1,829.1 L447.5,830.3 L443.9,832.6 L439.2,831.5 L436.8,827.9 L434.5,820.8 L429.7,817.2 L425.0,813.7 L420.3,811.3 L415.5,806.6 L408.4,803.0 L401.3,798.3 L394.2,797.1 L389.5,795.9 L388.3,792.4 L384.7,790.0 L380.9,784.3 L373.8,780.8 L364.3,777.2 L357.2,773.7 L350.1,770.1 L345.4,767.7 L339.4,763.0 L333.5,758.3 L327.6,754.7 L321.7,753.5 L312.2,754.7 L306.3,752.3 L302.7,747.6 Z" fill="#fff" stroke="#000" stroke-width="1.0" stroke-linejoin="round"/>
<path d="M313.4,742.9 L321.7,739.9 L328.8,738.7 L338.3,740.5 L347.7,741.7 L357.2,746.4 L364.3,750.0 L376.2,754.7 L388.0,759.4" fill="none" stroke="#000" stroke-width="1.0"/>
<path d="M380.0,756.8 L387.1,762.8 L395.4,765.1 L409.6,772.2 L427.4,782.9 L428.6,785.3" fill="none" stroke="#000" stroke-width="1.0"/>
<path d="M376.0,761.0 L380.0,764.0 L389.5,768.7 L397.8,769.9 L415.5,778.2 L427.4,785.3" fill="none" stroke="#000" stroke-width="1.0"/>
<path d="M321.7,752.3 L331.2,753.5 L345.4,760.6 L357.2,766.6 L369.1,771.3 L380.9,776.0 L388.0,778.4 L391.8,784.1 L409.6,794.7 L427.4,804.2 L434.5,809.0 L439.2,816.0" fill="none" stroke="#000" stroke-width="1.0"/>
<ellipse cx="331.8" cy="746.4" rx="3" ry="4.1" transform="rotate(-20 331.8 746.4)" fill="none" stroke="#000" stroke-width="1"/>
<ellipse cx="350.7" cy="752.9" rx="4.1" ry="5.3" transform="rotate(-20 350.7 752.9)" fill="none" stroke="#000" stroke-width="1"/>
<ellipse cx="363.7" cy="761.2" rx="3.6" ry="5.3" transform="rotate(-20 363.7 761.2)" fill="none" stroke="#000" stroke-width="1"/>
<ellipse cx="380.9" cy="772.5" rx="3.6" ry="4.7" transform="rotate(-20 380.9 772.5)" fill="none" stroke="#000" stroke-width="1"/>
<ellipse cx="400.7" cy="781.7" rx="4.1" ry="5.3" transform="rotate(-20 400.7 781.7)" fill="none" stroke="#000" stroke-width="1"/>
<ellipse cx="413.8" cy="789.4" rx="4.1" ry="5.3" transform="rotate(-20 413.8 789.4)" fill="none" stroke="#000" stroke-width="1"/>
<ellipse cx="428.6" cy="801.8" rx="3" ry="4.1" transform="rotate(-20 428.6 801.8)" fill="none" stroke="#000" stroke-width="1"/>
<circle cx="341.8" cy="748.2" r="1.8" fill="none" stroke="#000" stroke-width="1"/>
<circle cx="421.4" cy="794.7" r="1.8" fill="none" stroke="#000" stroke-width="1"/>
<circle cx="371.4" cy="763" r="1.8" fill="none" stroke="#000" stroke-width="1"/>
<path d="M333.5,732.2 L343.0,732.2 L343.0,740.5" fill="none" stroke="#000" stroke-width="1.0"/>
<path d="M338.0,732.2 L338.0,740.0" fill="none" stroke="#000" stroke-width="1.0"/>
<path d="M311.0,748.8 L321.7,748.8 L321.7,754.7" fill="none" stroke="#000" stroke-width="1.0"/>
<path d="M316.0,749.0 L316.0,754.0" fill="none" stroke="#000" stroke-width="1.0"/>
<path d="M343.0,725.1 L356.0,727.5" fill="none" stroke="#000" stroke-width="1.0"/>
<path d="M341.8,721.6 L343.0,729.5" fill="none" stroke="#000" stroke-width="1.0"/>
<path d="M347.7,720.4 L349.0,732.0" fill="none" stroke="#000" stroke-width="1.0"/>
<path d="M430.9,775.8 L432.1,790.0 L436.8,794.7 L446.3,797.1 L449.9,799.5" fill="none" stroke="#000" stroke-width="1.0"/>
<path d="M436.8,780.5 L439.2,790.0 L446.3,794.7" fill="none" stroke="#000" stroke-width="1.0"/>
<path d="M435.7,798.3 L439.2,809.0 L448.7,809.0" fill="none" stroke="#000" stroke-width="1.0"/>
<path d="M443.9,823.2 L462.9,820.8" fill="none" stroke="#000" stroke-width="1.0"/>
<path d="M455.8,807.8 L457.0,818.0 L462.0,822.0" fill="none" stroke="#000" stroke-width="1.0"/>
<path d="M308.0,741.0 L310.0,750.0" fill="none" stroke="#000" stroke-width="1.0"/>
<path d="M303.9,739.9 L306.0,748.0" fill="none" stroke="#000" stroke-width="1.0"/>
<path d="M385.6,748.8 L389.0,752.0 L389.5,760.4" fill="none" stroke="#000" stroke-width="1.0"/>
<path d="M306,775.5 Q307,772.5 311,772.8 L317.5,773.3 Q319.5,775.5 317.5,777.5 L311,778.2 Q307,778.3 306,775.5 Z" fill="#fff" stroke="#000" stroke-width="1.1"/>
<path d="M448.5,859.5 Q449.5,856.5 453,856.8 L459.5,857.3 Q461.5,859.5 459.5,861.5 L453,862.2 Q449.5,862.3 448.5,859.5 Z" fill="#fff" stroke="#000" stroke-width="1.1"/>
<path d="M299.6,833.0 L304.6,827.4 L308.5,825.7 L312.5,825.1 L317.0,831.9 L323.7,836.3 L326.0,838.6 L330.4,847.6 L336.1,852.1 L338.3,856.6 L338.5,876.8 L338.3,907.1 L337.2,916.1 L334.9,922.9 L329.3,928.5 L321.5,930.7 L312.5,934.1 L306.9,933.0 L302.4,928.5 L299.6,921.7 L299.6,912.8 L302.4,907.1 L305.7,903.8 L306.3,893.7 L305.7,871.2 L304.6,863.3 L301.2,857.7 L300.1,843.1 Z" fill="#fff" stroke="#000" stroke-width="1.0" stroke-linejoin="round"/>
<path d="M301.2,834.1 L310.2,836.3 L318.1,835.2 L323.7,836.3" fill="none" stroke="#000" stroke-width="1.0"/>
<path d="M310.2,836.3 L311.3,859.9 L312.5,904.9 L309.1,934.1" fill="none" stroke="#000" stroke-width="1.0"/>
<path d="M303.5,845.3 L306.9,856.6 L309.1,863.3 L308.5,904.9" fill="none" stroke="#000" stroke-width="1.0"/>
<path d="M304.6,864.4 L306.9,904.9" fill="none" stroke="#000" stroke-width="1.0"/>
<path d="M313.6,844.2 L319.2,840.8 L326.0,845.3 L329.3,852.1 L327.1,856.6 L321.5,856.6 L314.7,854.3 L313.6,844.2" fill="none" stroke="#000" stroke-width="1.0"/>
<path d="M322.6,854.3 L327.1,853.2 L332.7,857.7 L333.8,865.6 L332.7,904.9 L330.4,912.8 L323.7,913.9 L321.5,910.5 L321.5,859.9 L322.6,854.3" fill="none" stroke="#000" stroke-width="1.0"/>
<path d="M315.8,877.9 L319.2,877.9 L319.2,901.5 L315.8,901.5" fill="none" stroke="#000" stroke-width="1.0"/>
<path d="M322.6,879.0 L328.2,879.0 L328.2,890.3 L322.6,890.3" fill="none" stroke="#000" stroke-width="1.0"/>
<path d="M324.8,891.4 L329.3,891.4 L329.3,910.5" fill="none" stroke="#000" stroke-width="1.0"/>
<path d="M335.5,857.7 L335.5,916.1" fill="none" stroke="#000" stroke-width="1.0"/>
<path d="M302.4,913.9 L312.5,913.9 L323.7,916.1 L334.9,913.9" fill="none" stroke="#000" stroke-width="1.0"/>
<path d="M301.2,921.7 L310.2,922.9 L323.7,920.6 L337.2,918.4" fill="none" stroke="#000" stroke-width="1.0"/>
<path d="M308.0,922.9 L309.1,933.0" fill="none" stroke="#000" stroke-width="1.0"/>
<rect x="303.5" y="842.0" width="2.2" height="2.8" rx="0" fill="none" stroke="#000" stroke-width="1.0"/>
<rect x="316.4" y="863.3" width="2.2" height="2.2" rx="0" fill="none" stroke="#000" stroke-width="1.0"/>
<rect x="317.5" y="868.9" width="1.9" height="2.2" rx="0" fill="none" stroke="#000" stroke-width="1.0"/>
<rect x="324.8" y="866.7" width="2.2" height="2.2" rx="0" fill="none" stroke="#000" stroke-width="1.0"/>
<path d="M314.7,861.1 L319.2,859.9" fill="none" stroke="#000" stroke-width="1.0"/>
<path d="M312.5,907.1 L318.1,908.3 L321.5,907.1" fill="none" stroke="#000" stroke-width="1.0"/>
<path d="M326.0,920.6 L328.2,921.7" fill="none" stroke="#000" stroke-width="1.0"/>
<path d="M304.6,827.4 L306.9,833.0 L308.0,836.3" fill="none" stroke="#000" stroke-width="1.0"/>
<path d="M317.0,831.9 L318.1,835.2" fill="none" stroke="#000" stroke-width="1.0"/>
<path d="M269.5,803.8 L272.2,800.1 L277.8,798.3 L282.4,799.2 L285.1,802.9 L285.7,810.3 L282.4,812.1 L275.0,813.0 L271.3,813.9 L269.8,810.3 Z" fill="#fff" stroke="#000" stroke-width="1.0" stroke-linejoin="round"/>
<path d="M272.2,800.1 L274.1,802.9 L278.7,802.0 L282.4,799.2" fill="none" stroke="#000" stroke-width="1.0"/>
<path d="M274.1,802.9 L275.0,813.0" fill="none" stroke="#000" stroke-width="1.0"/>
<path d="M284.2,814.9 L306.3,825.9" fill="none" stroke="#000" stroke-width="1.0" stroke-dasharray="6,3"/>
<path d="M241.5,868.4 L244.8,868.4 L248.2,885.3 L248.5,890.0 L247.0,892.5 L248.0,897.0 L247.0,899.6 L243.2,898.7 L244.0,908.8 L239.8,910.5 L234.7,912.2 L234.3,903.8 L236.0,899.8 L239.0,898.5 L239.0,893.0 L240.0,889.0 L235.6,885.3 Z" fill="#fff" stroke="#000" stroke-width="1.0" stroke-linejoin="round"/>
<path d="M237.0,885.3 L247.0,885.3" fill="none" stroke="#000" stroke-width="1.0"/>
<path d="M243.0,870.0 L240.0,880.0 L238.0,885.0" fill="none" stroke="#000" stroke-width="1.0"/>
<path d="M243.0,870.0 L246.0,882.0" fill="none" stroke="#000" stroke-width="1.0"/>
<circle cx="243.5" cy="890" r="2.6" fill="none" stroke="#000" stroke-width="1"/>
<path d="M240.0,895.0 L247.0,895.0" fill="none" stroke="#000" stroke-width="1.0"/>
<path d="M241.5,868.4 L244.8,868.4 L244.5,871.0 L242.0,871.0" fill="none" stroke="#000" stroke-width="2"/>
<path d="M261.7,881.0 L265.0,879.4 L268.4,880.2 L269.3,876.8 L270.1,874.3 L273.5,873.5 L278.5,874.3 L281.1,876.0 L281.1,888.6 L283.6,890.3 L283.6,897.9 L281.6,899.6 L281.6,997.0 L277.3,1007.5 L273.5,1008.2 L270.8,1003.0 L275.1,997.0 L275.1,915.0 L273.5,907.2 L270.1,900.4 L268.4,896.2 L266.7,892.8 L265.9,885.3 L263.4,883.6 Z" fill="#fff" stroke="#000" stroke-width="1.0" stroke-linejoin="round"/>
<path d="M270.1,874.3 L272.0,880.0 L276.0,882.0 L281.0,880.0" fill="none" stroke="#000" stroke-width="1.0"/>
<path d="M272.0,880.0 L274.0,890.0 L278.0,893.0 L278.0,999.0 L275.6,1004.0" fill="none" stroke="#000" stroke-width="1.0"/>
<path d="M263.4,883.6 L268.0,882.0 L270.0,886.0 L268.0,892.0" fill="none" stroke="#000" stroke-width="1.0"/>
<path d="M281.1,888.6 L279.0,892.0 L281.6,899.6" fill="none" stroke="#000" stroke-width="1.0"/>
<path d="M275.5,880.0 L277.0,886.0" fill="none" stroke="#000" stroke-width="1.0"/>
<path d="M265.5,880.5 L267.5,884.5 L269.5,881.0" fill="none" stroke="#000" stroke-width="1.0"/>
<path d="M235.3,938.8 L237.5,936.9 L241.1,936.6 L242.6,938.8 L243.0,943.8 L247.6,948.2 L251.3,952.5 L252.0,972.8 L249.1,975.7 L244.7,976.4 L244.7,979.3 L241.8,980.0 L239.7,977.1 L236.1,976.4 L233.2,979.3 L228.8,980.0 L225.2,977.1 L224.5,972.8 L226.6,968.4 L230.3,967.0 L234.6,966.3 L235.3,953.9 Z" fill="#fff" stroke="#000" stroke-width="1.0" stroke-linejoin="round"/>
<path d="M241.1,945.3 L241.1,978.6" fill="none" stroke="#000" stroke-width="0.9" stroke-dasharray="6,3"/>
<path d="M243.0,943.8 L243.6,974.2" fill="none" stroke="#000" stroke-width="1.0"/>
<path d="M238.2,948.2 L241.1,950.3 L244.0,948.2" fill="none" stroke="#000" stroke-width="1.0"/>
<path d="M238.2,952.5 L241.1,954.7 L244.0,952.5" fill="none" stroke="#000" stroke-width="1.0"/>
<path d="M444.1,920.3 L446.2,917.2 L451.4,916.2 L458.6,915.2 L463.8,913.6 L470.0,914.1 L471.0,918.3 L476.2,922.4 L481.4,930.7 L485.5,939.0 L489.7,947.2 L493.8,948.3 L495.9,951.4 L496.4,961.7 L497.4,966.9 L497.9,992.8 L496.4,996.9 L492.8,997.9 L490.7,1003.1 L489.7,1009.3 L485.5,1014.5 L479.3,1018.6 L471.0,1021.7 L460.7,1021.7 L453.4,1019.7 L448.3,1015.5 L446.2,1009.3 L445.7,1001.0 L446.2,990.7 L445.2,972.1 L444.1,951.4 L443.6,930.7 Z" fill="#fff" stroke="#000" stroke-width="1.0" stroke-linejoin="round"/>
<path d="M451.4,924.5 L459.7,923.4 L465.9,922.4 L470.0,928.6 L476.2,939.0 L477.2,956.6 L477.2,994.8 L474.1,997.9 L460.7,997.9 L458.6,995.9" fill="none" stroke="#000" stroke-width="1.0"/>
<path d="M459.7,939.0 L464.8,935.9 L470.0,937.9 L472.1,943.1 L470.0,951.4 L466.9,959.7 L467.9,972.1 L471.0,982.4 L472.1,992.8 L469.0,995.9 L461.7,995.9 L459.7,991.7 L460.7,972.1 L460.7,961.7 L459.7,939.0" fill="none" stroke="#000" stroke-width="1.0"/>
<path d="M451.4,947.2 L457.6,947.2 L458.6,982.4 L452.4,983.4 L451.4,947.2" fill="none" stroke="#000" stroke-width="1.0"/>
<path d="M452.6,950.3 L456.8,950.3 L457.1,980.3 L453.2,980.9 L452.6,950.3" fill="none" stroke="#000" stroke-width="1.0"/>
<path d="M446.2,920.3 L447.2,1003.1" fill="none" stroke="#000" stroke-width="1.0"/>
<path d="M450.3,925.5 L450.3,997.9" fill="none" stroke="#000" stroke-width="1.0"/>
<path d="M477.2,944.1 L485.5,949.3 L489.7,949.3 L490.7,995.9 L487.6,997.9 L479.3,992.8" fill="none" stroke="#000" stroke-width="1.0"/>
<ellipse transform="translate(484.5,969.0) rotate(0)" rx="3.1" ry="4.7" fill="none" stroke="#000" stroke-width="1.0"/>
<path d="M493.8,956.6 L497.9,956.6" fill="none" stroke="#000" stroke-width="1.0"/>
<path d="M493.8,956.6 L493.8,996.9 L496.4,996.9" fill="none" stroke="#000" stroke-width="1.0"/>
<path d="M446.2,1000.0 L460.7,999.0 L471.0,1001.0 L479.3,994.8 L490.7,995.9" fill="none" stroke="#000" stroke-width="1.0"/>
<path d="M475.2,1006.2 L479.3,1001.0 L485.5,1000.0 L487.6,1004.1 L483.4,1010.3 L477.2,1011.4 L475.2,1006.2" fill="none" stroke="#000" stroke-width="1.0"/>
<path d="M450.3,1001.0 L453.4,1008.3 L460.7,1013.4 L471.0,1015.5 L479.3,1017.6" fill="none" stroke="#000" stroke-width="1.0"/>
<path d="M453.4,1013.4 L465.9,1012.4" fill="none" stroke="#000" stroke-width="1.0"/>
<path d="M464.8,921.4 L471.0,929.7 L476.2,923.4" fill="none" stroke="#000" stroke-width="1.0"/>
<path d="M460.7,961.7 L466.9,961.7" fill="none" stroke="#000" stroke-width="1.0"/>
<path d="M460.7,972.1 L467.4,972.1" fill="none" stroke="#000" stroke-width="1.0"/>
<path d="M481.4,950.3 L483.4,952.4" fill="none" stroke="#000" stroke-width="1.0"/>
<path d="M486.6,953.4 L488.6,955.5" fill="none" stroke="#000" stroke-width="1.0"/>
<path d="M481.4,982.4 L483.4,984.5" fill="none" stroke="#000" stroke-width="1.0"/>
<path d="M486.6,985.5 L488.6,987.6" fill="none" stroke="#000" stroke-width="1.0"/>
<path d="M453.4,1012.4 L457.6,1012.4" fill="none" stroke="#000" stroke-width="2"/>
<path d="M470.0,1016.5 L473.1,1016.5" fill="none" stroke="#000" stroke-width="2"/>
<path d="M452.4,927.6 L460.7,927.6" fill="none" stroke="#000" stroke-width="1.0"/>
<path d="M452.4,932.8 L457.6,933.8 L460.7,936.9" fill="none" stroke="#000" stroke-width="1.0"/>
<path d="M496.1,934.9 L498.3,932.0 L504.1,929.4 L511.3,929.1 L513.5,932.0 L513.1,937.8 L510.6,939.2 L505.5,939.2 L499.7,940.7 L497.6,942.1 L496.1,939.2 Z" fill="#fff" stroke="#000" stroke-width="1.0" stroke-linejoin="round"/>
<path d="M498.3,932.0 L501.2,934.9 L511.3,933.4 L513.5,932.0" fill="none" stroke="#000" stroke-width="1.0"/>
<path d="M501.2,934.9 L500.5,940.7" fill="none" stroke="#000" stroke-width="1.0"/>
<path d="M475.1,923.3 L495.4,933.4" fill="none" stroke="#000" stroke-width="1.1" stroke-dasharray="6,3"/>
<path d="M432.4,900.4 L435.8,900.4 L436.5,906.0 L438.7,908.3 L440.8,909.8 L440.8,915.3 L440.0,917.0 L440.5,924.6 L438.3,926.6 L434.4,926.6 L433.5,929.0 L433.6,942.5 L429.7,945.7 L425.9,945.7 L425.9,938.0 L426.6,931.6 L429.0,930.2 L429.0,924.6 L426.4,920.4 L426.4,916.6 L428.3,912.3 L429.4,908.3 Z" fill="#fff" stroke="#000" stroke-width="1.0" stroke-linejoin="round"/>
<path d="M432.4,901.0 L435.5,901.0 L435.5,905.0 L433.0,905.0" fill="none" stroke="#000" stroke-width="2"/>
<path d="M429.0,909.0 L434.0,909.0 L436.0,912.0 L440.8,912.0" fill="none" stroke="#000" stroke-width="1.0"/>
<path d="M427.0,915.0 L433.0,915.0 L436.0,917.0 L440.0,917.0" fill="none" stroke="#000" stroke-width="1.0"/>
<path d="M427.0,919.0 L432.0,919.0 L435.0,921.0 L440.0,921.0" fill="none" stroke="#000" stroke-width="1.0"/>
<path d="M430.0,924.0 L434.0,924.0 L437.0,926.0" fill="none" stroke="#000" stroke-width="1.0"/>
<path d="M433.0,905.0 L432.0,912.0 L431.0,918.0" fill="none" stroke="#000" stroke-width="1.0"/>
<path d="M436.5,906.0 L436.0,912.0" fill="none" stroke="#000" stroke-width="1.0"/>
<path d="M429.4,928.0 L429.4,943.0" fill="none" stroke="#000" stroke-width="1.0"/>
<path d="M431.5,930.0 L431.5,944.0" fill="none" stroke="#000" stroke-width="1.0"/>
<path d="M427.0,934.0 L433.0,934.0" fill="none" stroke="#000" stroke-width="1.0"/>
<path d="M427.0,939.0 L433.0,939.0" fill="none" stroke="#000" stroke-width="1.0"/>
<path d="M427.4,972.5 L430.3,971.8 L433.2,973.2 L433.9,978.3 L437.5,981.2 L438.2,991.3 L437.5,1000.0 L436.1,1005.8 L436.8,1010.1 L433.9,1014.5 L428.8,1014.5 L424.5,1013.0 L418.7,1010.1 L416.5,1007.2 L418.7,1004.3 L423.0,1002.9 L425.9,1001.4 L426.6,994.2 L427.4,985.5 Z" fill="#fff" stroke="#000" stroke-width="1.0" stroke-linejoin="round"/>
<path d="M428.1,979.7 L437.5,979.7" fill="none" stroke="#000" stroke-width="1.0"/>
<path d="M428.1,988.4 L437.5,988.4" fill="none" stroke="#000" stroke-width="1.0"/>
<path d="M428.1,997.1 L437.5,997.1" fill="none" stroke="#000" stroke-width="1.0"/>
<path d="M431.0,972.5 L431.4,1014.5" fill="none" stroke="#000" stroke-width="1.0"/>
<path d="M418.7,1007.2 L425.9,1005.8 L431.7,1005.8" fill="none" stroke="#000" stroke-width="1.0"/>
<path d="M291.6,957.8 L296.8,956.4 L297.5,951.2 L300.8,949.2 L306.0,948.6 L308.0,949.9 L311.3,949.9 L319.2,955.1 L335.0,968.3 L352.1,978.2 L366.6,986.0 L385.0,997.0 L420.0,1016.3 L430.0,1023.4 L455.8,1039.5 L463.2,1039.0 L469.6,1042.2 L478.8,1047.8 L483.0,1054.2 L483.4,1056.0 L481.1,1057.0 L478.8,1055.0 L474.0,1054.0 L470.0,1056.0 L467.8,1058.8 L463.2,1060.2 L457.6,1058.8 L449.3,1057.0 L443.8,1053.3 L432.6,1048.4 L427.4,1046.3 L425.3,1043.2 L401.0,1031.6 L393.7,1028.4 L390.5,1020.0 L385.0,1019.0 L377.1,1015.0 L364.0,1008.4 L350.8,1000.5 L340.3,997.9 L337.6,992.6 L324.5,984.7 L316.6,979.5 L311.3,978.2 L307.4,970.3 L298.2,966.3 Z" fill="#fff" stroke="#000" stroke-width="1.0" stroke-linejoin="round"/>
<path d="M298.2,953.2 L311.3,961.0 L327.1,971.6 L342.9,980.8 L358.7,990.0 L385.0,1004.5 L401.0,1015.8 L432.6,1034.7 L460.0,1047.4 L465.0,1048.7" fill="none" stroke="#000" stroke-width="1.0"/>
<path d="M297.5,957.1 L304.7,962.4 L316.6,970.3 L337.6,983.4 L358.7,996.6 L385.0,1011.7 L401.0,1020.0 L432.6,1039.0 L448.4,1047.8 L457.6,1052.4 L466.8,1053.3" fill="none" stroke="#000" stroke-width="1.0"/>
<path d="M304.7,970.3 L317.9,978.2 L337.6,990.0 L358.7,1003.2 L377.1,1013.7 L390.5,1020.0" fill="none" stroke="#000" stroke-width="1.0"/>
<path d="M315.3,970.3 L316.6,979.5" fill="none" stroke="#000" stroke-width="1.0"/>
<path d="M344.2,987.4 L345.5,994.0" fill="none" stroke="#000" stroke-width="1.0"/>
<path d="M370.5,1003.2 L371.8,1009.7" fill="none" stroke="#000" stroke-width="1.0"/>
<path d="M402.0,1020.0 L403.0,1026.3" fill="none" stroke="#000" stroke-width="1.0"/>
<path d="M433.7,1036.8 L434.7,1043.2" fill="none" stroke="#000" stroke-width="1.0"/>
<path d="M450.3,1045.0 L451.2,1049.6" fill="none" stroke="#000" stroke-width="1.0"/>
<path d="M297.5,951.2 L300.0,956.0" fill="none" stroke="#000" stroke-width="1.0"/>
<path d="M306.0,948.6 L306.0,955.0" fill="none" stroke="#000" stroke-width="1.0"/>
<path d="M311.3,949.9 L315.0,958.0 L323.0,962.0" fill="none" stroke="#000" stroke-width="1.0"/>
<path d="M318.0,964.0 L321.0,962.5" fill="none" stroke="#000" stroke-width="1.0"/>
<path d="M334.0,974.0 L337.0,972.5" fill="none" stroke="#000" stroke-width="1.0"/>
<path d="M350.0,982.0 L353.0,980.5" fill="none" stroke="#000" stroke-width="1.0"/>
<path d="M366.0,991.0 L369.0,989.5" fill="none" stroke="#000" stroke-width="1.0"/>
<path d="M392.0,1006.0 L395.0,1004.5" fill="none" stroke="#000" stroke-width="1.0"/>
<path d="M415.0,1019.0 L418.0,1017.5" fill="none" stroke="#000" stroke-width="1.0"/>
<path d="M440.0,1033.0 L443.0,1031.5" fill="none" stroke="#000" stroke-width="1.0"/>
<path d="M458.0,1043.0 L461.0,1041.5" fill="none" stroke="#000" stroke-width="1.0"/>
<ellipse cx="350.7" cy="752.9" rx="2.6" ry="3.8" transform="rotate(-20 350.7 752.9)" fill="none" stroke="#000" stroke-width="1"/>
<ellipse cx="363.7" cy="761.2" rx="2.3" ry="3.8" transform="rotate(-20 363.7 761.2)" fill="none" stroke="#000" stroke-width="1"/>
<ellipse cx="400.7" cy="781.7" rx="2.6" ry="3.8" transform="rotate(-20 400.7 781.7)" fill="none" stroke="#000" stroke-width="1"/>
<ellipse cx="413.8" cy="789.4" rx="2.6" ry="3.8" transform="rotate(-20 413.8 789.4)" fill="none" stroke="#000" stroke-width="1"/>
<path d="M313.4,737.5 L315.8,734.6 L321.7,732.8 L326.4,731.0 L330.0,733.4 L331.2,736.9 L327.6,738.7 L321.7,739.3 L315.8,740.5 L313.4,737.5" fill="none" stroke="#000" stroke-width="1.0"/>
<path d="M318.1,735.8 L322.9,735.2 L325.2,737.5" fill="none" stroke="#000" stroke-width="1.0"/>
<path d="M333.5,732.2 L333.5,740.5" fill="none" stroke="#000" stroke-width="1.0"/>
<path d="M343.0,733.4 L343.0,740.5" fill="none" stroke="#000" stroke-width="1.0"/>
<path d="M311.0,748.8 L321.7,748.8 L321.7,754.1" fill="none" stroke="#000" stroke-width="1.0"/>
<path d="M314.6,749.4 L315.8,754.1" fill="none" stroke="#000" stroke-width="1.0"/>
<path d="M337.1,763.0 L340.6,760.6 L343.0,763.0 L340.6,765.4 L338.3,764.8" fill="none" stroke="#000" stroke-width="1.0"/>
<path d="M369.1,757.1 L373.8,755.9 L376.2,760.6 L373.8,765.4 L370.2,764.2" fill="none" stroke="#000" stroke-width="1.0"/>
<path d="M391.8,790.0 L397.8,792.4 L401.3,798.3" fill="none" stroke="#000" stroke-width="1.0"/>
<path d="M415.5,806.6 L419.1,809.0 L417.9,811.3" fill="none" stroke="#000" stroke-width="1.0"/>
<path d="M432.1,801.8 L435.7,804.2 L435.7,809.0" fill="none" stroke="#000" stroke-width="1.0"/>
<path d="M441.6,780.5 L446.3,782.9 L447.5,786.4" fill="none" stroke="#000" stroke-width="1.0"/>
<path d="M451.1,811.3 L457.0,816.1 L462.9,820.8" fill="none" stroke="#000" stroke-width="1.0"/>
<path d="M446.3,816.1 L451.1,820.8 L455.8,825.5" fill="none" stroke="#000" stroke-width="1.0"/>
<path d="M305.5,707 L304,704.5 L304,699 Q305,696.5 308,696 L312,696 Q315,696.5 316,699 L316,704.5 L314.5,707 Z" fill="#fff" stroke="#000" stroke-width="1.8"/>
<path d="M307,707 L307,714.5 L308.5,715.5 L313,715.5 L313,707 Z" fill="#fff" stroke="#000" stroke-width="1.8"/>
<path d="M308.0,700.0 L311.0,703.0 L312.0,701.0" fill="none" stroke="#000" stroke-width="1.3"/>
<path d="M309.0,710.0 L311.0,710.0" fill="none" stroke="#000" stroke-width="1"/>
<path d="M309.0,712.5 L311.0,712.5" fill="none" stroke="#000" stroke-width="1"/>
<path d="M447.0,752.3 L445.5,749.8 L445.5,744.3 Q446.5,741.8 449.5,741.3 L453.5,741.3 Q456.5,741.8 457.5,744.3 L457.5,749.8 L456.0,752.3 Z" fill="#fff" stroke="#000" stroke-width="1.8"/>
<path d="M448.5,752.3 L448.5,759.8 L450.0,760.8 L454.5,760.8 L454.5,752.3 Z" fill="#fff" stroke="#000" stroke-width="1.8"/>
<path d="M449.5,745.3 L452.5,748.3 L453.5,746.3" fill="none" stroke="#000" stroke-width="1.3"/>
<path d="M450.5,755.3 L452.5,755.3" fill="none" stroke="#000" stroke-width="1"/>
<path d="M450.5,757.8 L452.5,757.8" fill="none" stroke="#000" stroke-width="1"/>
<path d="M306.3,1032.5 L306.3,1024.5 L312.3,1024.5 L312.3,1032.5 Z" fill="#fff" stroke="#000" stroke-width="1.8"/>
<path d="M303.3,1033.5 L315.3,1033.5 L315.3,1038.5 Q314.3,1041.5 311.3,1041.5 L307.3,1041.5 Q304.3,1041.5 303.3,1038.5 Z" fill="#fff" stroke="#000" stroke-width="1.8"/>
<path d="M303.3,1036.5 L315.3,1036.5" fill="none" stroke="#000" stroke-width="1.2"/>
<path d="M308.3,1027.5 L310.3,1027.5" fill="none" stroke="#000" stroke-width="1"/>
<path d="M308.3,1030.0 L310.3,1030.0" fill="none" stroke="#000" stroke-width="1"/>
<path d="M469.8,1087.4 L469.8,1079.4 L475.8,1079.4 L475.8,1087.4 Z" fill="#fff" stroke="#000" stroke-width="1.8"/>
<path d="M466.8,1088.4 L478.8,1088.4 L478.8,1093.4 Q477.8,1096.4 474.8,1096.4 L470.8,1096.4 Q467.8,1096.4 466.8,1093.4 Z" fill="#fff" stroke="#000" stroke-width="1.8"/>
<path d="M466.8,1091.4 L478.8,1091.4" fill="none" stroke="#000" stroke-width="1.2"/>
<path d="M471.8,1082.4 L473.8,1082.4" fill="none" stroke="#000" stroke-width="1"/>
<path d="M471.8,1084.9 L473.8,1084.9" fill="none" stroke="#000" stroke-width="1"/>
<path d="M218.1,865.75 L215.1,862.75 L215.1,858.25 Q217.1,855.25 220.1,854.25 L222.6,854.75 Q225.6,856.25 225.6,859.25 L225.6,865.75 Z" fill="#fff" stroke="#000" stroke-width="1.8"/>
<path d="M225.6,857.5 L232.1,857.5 L232.1,862.5 L225.6,862.5" fill="#fff" stroke="#000" stroke-width="1.8"/>
<path d="M219.1,858.0 L220.1,862.0 L222.1,858.0" fill="none" stroke="#000" stroke-width="1.2"/>
<path d="M228.1,859.0 L228.1,861.0" fill="none" stroke="#000" stroke-width="1"/>
<path d="M222,1004.4 L219,1001.4 L219,998.4 Q221,995.4 224,994.4 L226,994.9 Q229,996.4 229,999.4 L229,1004.4 Z" fill="#fff" stroke="#000" stroke-width="1.8"/>
<path d="M229,996.9 L235.5,996.9 L235.5,1001.9 L229,1001.9" fill="#fff" stroke="#000" stroke-width="1.8"/>
<path d="M223.0,997.4 L224.0,1001.4 L226.0,997.4" fill="none" stroke="#000" stroke-width="1.2"/>
<path d="M231.5,998.4 L231.5,1000.4" fill="none" stroke="#000" stroke-width="1"/>
<path d="M62.7,631.5 L59.7,628.5 L59.7,624.5 Q61.7,621.5 64.7,620.5 L66.7,621.0 Q69.7,622.5 69.7,625.5 L69.7,631.5 Z" fill="#fff" stroke="#000" stroke-width="1.8"/>
<path d="M69.7,623.5 L76.7,623.5 L76.7,628.5 L69.7,628.5" fill="#fff" stroke="#000" stroke-width="1.8"/>
<path d="M63.7,624.0 L64.7,628.0 L66.7,624.0" fill="none" stroke="#000" stroke-width="1.2"/>
<path d="M72.2,625.0 L72.2,627.0" fill="none" stroke="#000" stroke-width="1"/>
<path d="M325.6,660.5 L322.6,657.5 L322.6,653.5 Q324.6,650.5 327.6,649.5 L329.6,650.0 Q332.6,651.5 332.6,654.5 L332.6,660.5 Z" fill="#fff" stroke="#000" stroke-width="1.8"/>
<path d="M332.6,652.5 L339.6,652.5 L339.6,657.5 L332.6,657.5" fill="#fff" stroke="#000" stroke-width="1.8"/>
<path d="M326.6,653.0 L327.6,657.0 L329.6,653.0" fill="none" stroke="#000" stroke-width="1.2"/>
<path d="M335.1,654.0 L335.1,656.0" fill="none" stroke="#000" stroke-width="1"/>
<rect x="340.6" y="675.4" width="8.8" height="12" rx="1.5" fill="#fff" stroke="#000" stroke-width="1.5"/>
<path d="M341.0,678.5 L349.0,678.5" fill="none" stroke="#000" stroke-width="1"/>
<path d="M341.0,682.5 L349.0,682.5" fill="none" stroke="#000" stroke-width="1"/>
<path d="M341.0,685.5 L349.0,685.5" fill="none" stroke="#000" stroke-width="1"/>
<path d="M349.2,676.0 L349.2,687.0" fill="none" stroke="#000" stroke-width="2"/>
<path d="M310.0,732.0 L310.0,759.0" fill="none" stroke="#000" stroke-width="2" stroke-dasharray="6,3"/>
<path d="M452.4,768.0 L452.4,840.0" fill="none" stroke="#000" stroke-width="1.0" stroke-dasharray="6,3"/>
<path d="M472.5,1080.0 L472.5,1040.0" fill="none" stroke="#000" stroke-width="1.0" stroke-dasharray="6,3"/>
<g font-family="Liberation Mono" fill="#000" stroke="#000" stroke-width="0.75">
<text transform="translate(388.0,24.0) scale(1,1.0)" font-size="21">55210</text>
<text transform="translate(507.0,49.0) scale(1,1.0)" font-size="21">55214A</text>
<text transform="translate(573.0,73.0) scale(1,1.0)" font-size="21">55215A</text>
<text transform="translate(643.0,124.0) scale(1,1.0)" font-size="21">55216</text>
<text transform="translate(322.0,129.4) scale(1,1.0)" font-size="21">55101</text>
<text transform="translate(187.0,180.0) scale(1,1.0)" font-size="21">55223A</text>
<text transform="translate(240.0,339.4) scale(1,1.0)" font-size="21">53701</text>
<text transform="translate(164.3,375.7) scale(1,1.0)" font-size="21">53733D</text>
<text transform="translate(137.0,413.0) scale(1,1.0)" font-size="21">55168A</text>
<text transform="translate(285.0,400.5) scale(1,1.0)" font-size="21">53717</text>
<text transform="translate(329.0,429.0) scale(1,1.0)" font-size="21">53715E</text>
<text transform="translate(559.0,416.3) scale(1,1.0)" font-size="21">53702</text>
<text transform="translate(503.0,459.4) scale(1,1.0)" font-size="21">53716E</text>
<text transform="translate(591.0,507.6) scale(1,1.0)" font-size="21">53718</text>
<text transform="translate(676.0,579.4) scale(1,1.0)" font-size="21">53734C</text>
<text transform="translate(585.0,609.7) scale(1,1.0)" font-size="21">55169B</text>
<text transform="translate(146.0,623.0) scale(1,1.0)" font-size="21">53713C</text>
<text transform="translate(446.4,671.0) scale(1,1.0)" font-size="21">53714C</text>
<text transform="translate(355.3,714.0) scale(1,1.0)" font-size="21">53205</text>
<text transform="translate(207.7,783.0) scale(1,1.0)" font-size="21">53291F</text>
<text transform="translate(181.8,815.2) scale(1,1.0)" font-size="21">53233A</text>
<text transform="translate(96.4,833.0) scale(1,1.0)" font-size="21">53202</text>
<text transform="translate(486.0,868.6) scale(1,1.0)" font-size="21">53291F</text>
<text transform="translate(141.7,899.4) scale(1,1.0)" font-size="21">53285B</text>
<text transform="translate(372.2,893.0) scale(1,1.0)" font-size="21">53286B</text>
<text transform="translate(177.4,932.6) scale(1,1.0)" font-size="21">53217A</text>
<text transform="translate(537.4,940.5) scale(1,1.0)" font-size="21">53234A</text>
<text transform="translate(634.2,962.2) scale(1,1.0)" font-size="21">53203</text>
<text transform="translate(139.4,962.7) scale(1,1.0)" font-size="21">53287B</text>
<text transform="translate(364.4,962.8) scale(1,1.0)" font-size="21">53288B</text>
<text transform="translate(509.0,1057.7) scale(1,1.0)" font-size="21">53028</text>
<text transform="translate(271.0,617.3) scale(1,1.0)" font-size="18.2">90901-05005(2)</text>
<text transform="translate(9.5,671.3) scale(1,1.0)" font-size="18.2">90901-05005(2)</text>
<text transform="translate(173.0,687.8) scale(1,1.0)" font-size="18.2">90541-15024(2)</text>
<text transform="translate(134.4,708.4) scale(1,1.0)" font-size="18.2">90109-06380(2)</text>
<text transform="translate(483.7,754.4) scale(1,1.0)" font-size="18.2">90109-06380(2)</text>
<text transform="translate(79.0,867.3) scale(1,1.0)" font-size="18.2">90109-06380</text>
<text transform="translate(78.8,1005.8) scale(1,1.0)" font-size="18.2">90119-06010</text>
<text transform="translate(135.0,1044.2) scale(1,1.0)" font-size="18.2">90109-06380(3)</text>
<text transform="translate(297.8,1096.6) scale(1,1.0)" font-size="18.2">90109-06380(3)</text>
</g>
<text x="0" y="0" font-family="Liberation Sans" font-size="15.5" transform="translate(695.3,1107.6) scale(0.965,1.03)">532011B</text>
</svg></body></html>
